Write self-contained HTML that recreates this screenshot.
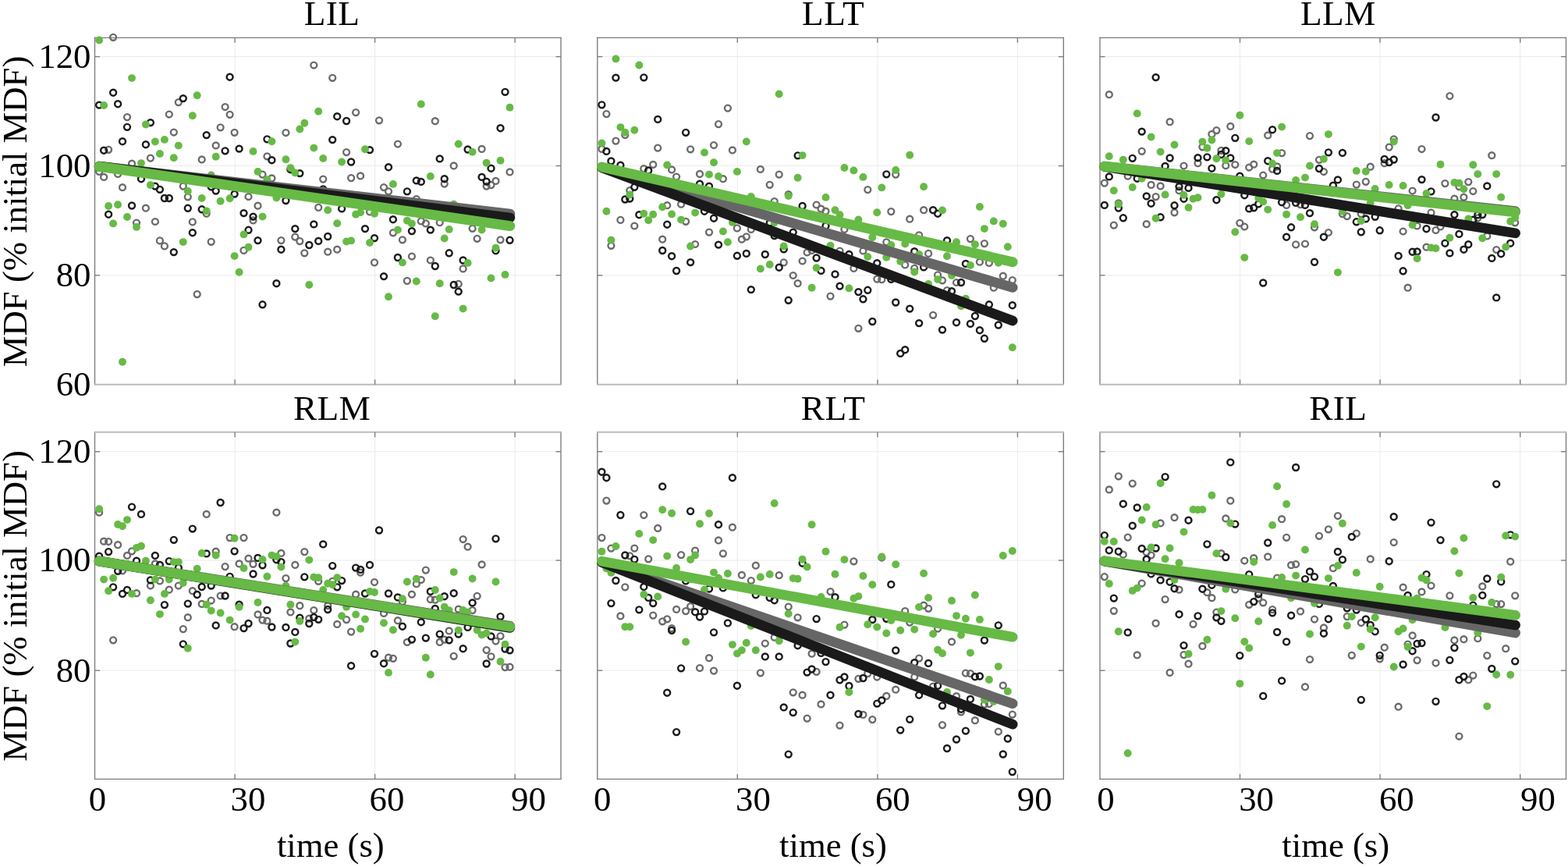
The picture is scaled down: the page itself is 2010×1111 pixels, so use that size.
<!DOCTYPE html>
<html lang="en">
<head>
<meta charset="utf-8">
<title>MDF (% initial MDF) versus time (s)</title>
<style>
html,body{margin:0;padding:0;background:#fff;}
body{width:2010px;height:1111px;overflow:hidden;}
svg{display:block;}
text{font-family:"Liberation Serif","Times New Roman",serif;font-size:44.8px;fill:#000;}
.tt{font-size:45.3px;letter-spacing:0.4px;}.lb{font-size:44.7px;}
.fr{fill:none;stroke:#7b7b7b;stroke-width:1.35;}
.fs{fill:none;stroke:#bcbcbc;stroke-width:2.1;}
.gd{stroke:#ebebeb;stroke-width:1;}
.tk{stroke:#7b7b7b;stroke-width:1.35;}
.k{fill:none;stroke:#1a1a1a;stroke-width:2.45;}
.g{fill:none;stroke:#6a6a6a;stroke-width:2.35;}
.n{fill:#66ba45;stroke:none;}
.l{stroke-width:12.8;stroke-linecap:round;fill:none;}
.lk{stroke:#1a1a1a;}.lg{stroke:#666666;}.ln{stroke:#66ba45;}
</style>
</head>
<body>
<svg width="2010" height="1111" viewBox="0 0 2010 1111">
<rect width="2010" height="1111" fill="#fff"/>
<g>
<line class="gd" x1="301.1" y1="48.3" x2="301.1" y2="492.8"/>
<line class="gd" x1="480.6" y1="48.3" x2="480.6" y2="492.8"/>
<line class="gd" x1="660.1" y1="48.3" x2="660.1" y2="492.8"/>
<line class="gd" x1="121.5" y1="352.8" x2="719" y2="352.8"/>
<line class="gd" x1="121.5" y1="212.5" x2="719" y2="212.5"/>
<line class="gd" x1="121.5" y1="72.6" x2="719" y2="72.6"/>
<path class="fr" d="M121.5 47.8V493.3M719 47.8V493.3"/>
<line class="fr" x1="120.9" y1="48.3" x2="719.6" y2="48.3"/>
<line class="fs" x1="120.9" y1="492.8" x2="719.6" y2="492.8"/>
<line class="tk" x1="301.1" y1="492.8" x2="301.1" y2="486.3"/>
<line class="tk" x1="301.1" y1="48.3" x2="301.1" y2="54.8"/>
<line class="tk" x1="480.6" y1="492.8" x2="480.6" y2="486.3"/>
<line class="tk" x1="480.6" y1="48.3" x2="480.6" y2="54.8"/>
<line class="tk" x1="660.1" y1="492.8" x2="660.1" y2="486.3"/>
<line class="tk" x1="660.1" y1="48.3" x2="660.1" y2="54.8"/>
<line class="tk" x1="121.5" y1="352.8" x2="128" y2="352.8"/>
<line class="tk" x1="719" y1="352.8" x2="712.5" y2="352.8"/>
<line class="tk" x1="121.5" y1="212.5" x2="128" y2="212.5"/>
<line class="tk" x1="719" y1="212.5" x2="712.5" y2="212.5"/>
<line class="tk" x1="121.5" y1="72.6" x2="128" y2="72.6"/>
<line class="tk" x1="719" y1="72.6" x2="712.5" y2="72.6"/>
<circle class="g" cx="127.1" cy="219.9" r="3.95"/><circle class="g" cx="133.1" cy="226.9" r="3.95"/><circle class="g" cx="139.1" cy="191.8" r="3.95"/><circle class="g" cx="145.1" cy="47.8" r="3.95"/><circle class="g" cx="151.1" cy="222.9" r="3.95"/><circle class="g" cx="157" cy="240.2" r="3.95"/>
<circle class="g" cx="163" cy="150.1" r="3.95"/><circle class="g" cx="169" cy="209.7" r="3.95"/><circle class="g" cx="175" cy="285.6" r="3.95"/><circle class="g" cx="186.9" cy="266.7" r="3.95"/><circle class="g" cx="192.9" cy="202.6" r="3.95"/><circle class="g" cx="198.9" cy="284" r="3.95"/>
<circle class="g" cx="204.9" cy="308.4" r="3.95"/><circle class="g" cx="210.9" cy="315.4" r="3.95"/><circle class="g" cx="216.8" cy="146.5" r="3.95"/><circle class="g" cx="222.8" cy="169.5" r="3.95"/><circle class="g" cx="228.8" cy="131.1" r="3.95"/><circle class="g" cx="234.8" cy="238.6" r="3.95"/>
<circle class="g" cx="240.8" cy="252.3" r="3.95"/><circle class="g" cx="246.8" cy="284.4" r="3.95"/><circle class="g" cx="252.7" cy="377.1" r="3.95"/><circle class="g" cx="258.7" cy="204.4" r="3.95"/><circle class="g" cx="264.7" cy="273.7" r="3.95"/><circle class="g" cx="270.7" cy="309.8" r="3.95"/>
<circle class="g" cx="276.7" cy="186.4" r="3.95"/><circle class="g" cx="282.6" cy="163.3" r="3.95"/><circle class="g" cx="288.6" cy="137" r="3.95"/><circle class="g" cx="294.6" cy="146.8" r="3.95"/><circle class="g" cx="300.6" cy="169.8" r="3.95"/><circle class="g" cx="312.5" cy="320.9" r="3.95"/>
<circle class="g" cx="318.5" cy="252" r="3.95"/><circle class="g" cx="324.5" cy="282.4" r="3.95"/><circle class="g" cx="330.5" cy="263.7" r="3.95"/><circle class="g" cx="336.5" cy="223.6" r="3.95"/><circle class="g" cx="342.4" cy="200.3" r="3.95"/><circle class="g" cx="348.4" cy="228.4" r="3.95"/>
<circle class="g" cx="360.4" cy="308.1" r="3.95"/><circle class="g" cx="366.4" cy="170" r="3.95"/><circle class="g" cx="378.3" cy="303.6" r="3.95"/><circle class="g" cx="384.3" cy="309.1" r="3.95"/><circle class="g" cx="390.3" cy="324.3" r="3.95"/><circle class="g" cx="402.3" cy="83.5" r="3.95"/>
<circle class="g" cx="408.2" cy="265.9" r="3.95"/><circle class="g" cx="414.2" cy="229.6" r="3.95"/><circle class="g" cx="420.2" cy="322.7" r="3.95"/><circle class="g" cx="426.2" cy="99.8" r="3.95"/><circle class="g" cx="432.2" cy="319.7" r="3.95"/><circle class="g" cx="444.1" cy="195.1" r="3.95"/>
<circle class="g" cx="450.1" cy="228.1" r="3.95"/><circle class="g" cx="456.1" cy="144.1" r="3.95"/><circle class="g" cx="462.1" cy="225.4" r="3.95"/><circle class="g" cx="474" cy="271.4" r="3.95"/><circle class="g" cx="480" cy="336.4" r="3.95"/><circle class="g" cx="486" cy="154.3" r="3.95"/>
<circle class="g" cx="492" cy="240.1" r="3.95"/><circle class="g" cx="498" cy="245.3" r="3.95"/><circle class="g" cx="503.9" cy="298.3" r="3.95"/><circle class="g" cx="509.9" cy="184.5" r="3.95"/><circle class="g" cx="515.9" cy="307.3" r="3.95"/><circle class="g" cx="521.9" cy="359.9" r="3.95"/>
<circle class="g" cx="527.9" cy="328.5" r="3.95"/><circle class="g" cx="533.8" cy="255" r="3.95"/><circle class="g" cx="539.8" cy="283.4" r="3.95"/><circle class="g" cx="545.8" cy="286.4" r="3.95"/><circle class="g" cx="551.8" cy="333.5" r="3.95"/><circle class="g" cx="557.8" cy="155.2" r="3.95"/>
<circle class="g" cx="563.7" cy="285.2" r="3.95"/><circle class="g" cx="569.7" cy="235.6" r="3.95"/><circle class="g" cx="581.7" cy="212.4" r="3.95"/><circle class="g" cx="587.7" cy="363.9" r="3.95"/><circle class="g" cx="593.6" cy="344.4" r="3.95"/><circle class="g" cx="605.6" cy="292.8" r="3.95"/>
<circle class="g" cx="611.6" cy="305.8" r="3.95"/><circle class="g" cx="617.6" cy="190.9" r="3.95"/><circle class="g" cx="623.6" cy="238.6" r="3.95"/><circle class="g" cx="629.5" cy="237.1" r="3.95"/><circle class="g" cx="635.5" cy="231.9" r="3.95"/><circle class="g" cx="641.5" cy="307.3" r="3.95"/>
<circle class="g" cx="653.5" cy="220.4" r="3.95"/>
<circle class="k" cx="127.1" cy="134.6" r="3.95"/><circle class="k" cx="133.1" cy="192.7" r="3.95"/><circle class="k" cx="139.1" cy="274.7" r="3.95"/><circle class="k" cx="145.1" cy="118.7" r="3.95"/><circle class="k" cx="151.1" cy="133.2" r="3.95"/><circle class="k" cx="157" cy="181.2" r="3.95"/>
<circle class="k" cx="163" cy="162.8" r="3.95"/><circle class="k" cx="169" cy="263.5" r="3.95"/><circle class="k" cx="181" cy="229.2" r="3.95"/><circle class="k" cx="186.9" cy="185.2" r="3.95"/><circle class="k" cx="192.9" cy="157.1" r="3.95"/><circle class="k" cx="198.9" cy="238.6" r="3.95"/>
<circle class="k" cx="204.9" cy="242.8" r="3.95"/><circle class="k" cx="210.9" cy="254" r="3.95"/><circle class="k" cx="216.8" cy="254" r="3.95"/><circle class="k" cx="222.8" cy="323.1" r="3.95"/><circle class="k" cx="234.8" cy="126.1" r="3.95"/><circle class="k" cx="240.8" cy="266.8" r="3.95"/>
<circle class="k" cx="246.8" cy="298.2" r="3.95"/><circle class="k" cx="258.7" cy="268.3" r="3.95"/><circle class="k" cx="264.7" cy="173.1" r="3.95"/><circle class="k" cx="270.7" cy="239.3" r="3.95"/><circle class="k" cx="276.7" cy="244.6" r="3.95"/><circle class="k" cx="288.6" cy="193.3" r="3.95"/>
<circle class="k" cx="294.6" cy="98.7" r="3.95"/><circle class="k" cx="300.6" cy="248.6" r="3.95"/><circle class="k" cx="306.6" cy="190.6" r="3.95"/><circle class="k" cx="312.5" cy="273.1" r="3.95"/><circle class="k" cx="318.5" cy="294.8" r="3.95"/><circle class="k" cx="324.5" cy="277.6" r="3.95"/>
<circle class="k" cx="330.5" cy="308.1" r="3.95"/><circle class="k" cx="336.5" cy="390.3" r="3.95"/><circle class="k" cx="342.4" cy="178.3" r="3.95"/><circle class="k" cx="348.4" cy="205.2" r="3.95"/><circle class="k" cx="354.4" cy="363.2" r="3.95"/><circle class="k" cx="360.4" cy="319.7" r="3.95"/>
<circle class="k" cx="366.4" cy="257" r="3.95"/><circle class="k" cx="372.4" cy="217.2" r="3.95"/><circle class="k" cx="378.3" cy="293.1" r="3.95"/><circle class="k" cx="384.3" cy="222.1" r="3.95"/><circle class="k" cx="396.3" cy="314" r="3.95"/><circle class="k" cx="402.3" cy="287.4" r="3.95"/>
<circle class="k" cx="408.2" cy="308.9" r="3.95"/><circle class="k" cx="414.2" cy="242.3" r="3.95"/><circle class="k" cx="420.2" cy="303" r="3.95"/><circle class="k" cx="426.2" cy="179.1" r="3.95"/><circle class="k" cx="432.2" cy="149.2" r="3.95"/><circle class="k" cx="438.1" cy="267.4" r="3.95"/>
<circle class="k" cx="444.1" cy="155" r="3.95"/><circle class="k" cx="450.1" cy="207.5" r="3.95"/><circle class="k" cx="468" cy="293.1" r="3.95"/><circle class="k" cx="474" cy="192.1" r="3.95"/><circle class="k" cx="480" cy="305.1" r="3.95"/><circle class="k" cx="492" cy="354.1" r="3.95"/>
<circle class="k" cx="498" cy="214.2" r="3.95"/><circle class="k" cx="503.9" cy="281.2" r="3.95"/><circle class="k" cx="509.9" cy="330" r="3.95"/><circle class="k" cx="521.9" cy="245.3" r="3.95"/><circle class="k" cx="527.9" cy="296.1" r="3.95"/><circle class="k" cx="533.8" cy="231.4" r="3.95"/>
<circle class="k" cx="539.8" cy="232.9" r="3.95"/><circle class="k" cx="551.8" cy="294.6" r="3.95"/><circle class="k" cx="557.8" cy="341" r="3.95"/><circle class="k" cx="563.7" cy="203.4" r="3.95"/><circle class="k" cx="569.7" cy="229.2" r="3.95"/><circle class="k" cx="575.7" cy="324.3" r="3.95"/>
<circle class="k" cx="581.7" cy="365" r="3.95"/><circle class="k" cx="587.7" cy="373.6" r="3.95"/><circle class="k" cx="593.6" cy="333.5" r="3.95"/><circle class="k" cx="599.6" cy="191.5" r="3.95"/><circle class="k" cx="617.6" cy="226.9" r="3.95"/><circle class="k" cx="623.6" cy="232.6" r="3.95"/>
<circle class="k" cx="629.5" cy="215.7" r="3.95"/><circle class="k" cx="635.5" cy="321.2" r="3.95"/><circle class="k" cx="641.5" cy="164.2" r="3.95"/><circle class="k" cx="647.5" cy="117.8" r="3.95"/><circle class="k" cx="653.5" cy="307.8" r="3.95"/>
<circle class="n" cx="127.1" cy="51.5" r="4.95"/><circle class="n" cx="133.1" cy="135" r="4.95"/><circle class="n" cx="139.1" cy="264" r="4.95"/><circle class="n" cx="145.1" cy="286.4" r="4.95"/><circle class="n" cx="151.1" cy="262.2" r="4.95"/><circle class="n" cx="157" cy="463.7" r="4.95"/>
<circle class="n" cx="163" cy="278" r="4.95"/><circle class="n" cx="169" cy="100.1" r="4.95"/><circle class="n" cx="175" cy="290.9" r="4.95"/><circle class="n" cx="181" cy="209.1" r="4.95"/><circle class="n" cx="186.9" cy="159.5" r="4.95"/><circle class="n" cx="192.9" cy="237.1" r="4.95"/>
<circle class="n" cx="198.9" cy="181.5" r="4.95"/><circle class="n" cx="204.9" cy="197" r="4.95"/><circle class="n" cx="210.9" cy="178.9" r="4.95"/><circle class="n" cx="222.8" cy="202.3" r="4.95"/><circle class="n" cx="228.8" cy="186.6" r="4.95"/><circle class="n" cx="234.8" cy="310.1" r="4.95"/>
<circle class="n" cx="240.8" cy="244.9" r="4.95"/><circle class="n" cx="246.8" cy="148.2" r="4.95"/><circle class="n" cx="252.7" cy="122.3" r="4.95"/><circle class="n" cx="258.7" cy="254" r="4.95"/><circle class="n" cx="264.7" cy="270.4" r="4.95"/><circle class="n" cx="270.7" cy="224.4" r="4.95"/>
<circle class="n" cx="276.7" cy="200.7" r="4.95"/><circle class="n" cx="282.6" cy="257.7" r="4.95"/><circle class="n" cx="294.6" cy="254.3" r="4.95"/><circle class="n" cx="300.6" cy="328.1" r="4.95"/><circle class="n" cx="306.6" cy="348.8" r="4.95"/><circle class="n" cx="312.5" cy="300.4" r="4.95"/>
<circle class="n" cx="318.5" cy="316.7" r="4.95"/><circle class="n" cx="324.5" cy="193.9" r="4.95"/><circle class="n" cx="330.5" cy="219.9" r="4.95"/><circle class="n" cx="336.5" cy="277.6" r="4.95"/><circle class="n" cx="342.4" cy="230.1" r="4.95"/><circle class="n" cx="348.4" cy="181.3" r="4.95"/>
<circle class="n" cx="354.4" cy="253.5" r="4.95"/><circle class="n" cx="366.4" cy="204.3" r="4.95"/><circle class="n" cx="372.4" cy="215.1" r="4.95"/><circle class="n" cx="378.3" cy="221.4" r="4.95"/><circle class="n" cx="384.3" cy="165.5" r="4.95"/><circle class="n" cx="390.3" cy="157.7" r="4.95"/>
<circle class="n" cx="396.3" cy="365" r="4.95"/><circle class="n" cx="402.3" cy="189.6" r="4.95"/><circle class="n" cx="408.2" cy="142.8" r="4.95"/><circle class="n" cx="414.2" cy="203" r="4.95"/><circle class="n" cx="420.2" cy="269.2" r="4.95"/><circle class="n" cx="432.2" cy="286.2" r="4.95"/>
<circle class="n" cx="438.1" cy="207.5" r="4.95"/><circle class="n" cx="444.1" cy="309.5" r="4.95"/><circle class="n" cx="450.1" cy="308.4" r="4.95"/><circle class="n" cx="456.1" cy="274.7" r="4.95"/><circle class="n" cx="462.1" cy="272.2" r="4.95"/><circle class="n" cx="468" cy="191.3" r="4.95"/>
<circle class="n" cx="474" cy="311" r="4.95"/><circle class="n" cx="480" cy="273.7" r="4.95"/><circle class="n" cx="498" cy="380.3" r="4.95"/><circle class="n" cx="503.9" cy="235.9" r="4.95"/><circle class="n" cx="509.9" cy="294.6" r="4.95"/><circle class="n" cx="515.9" cy="336.4" r="4.95"/>
<circle class="n" cx="521.9" cy="282.7" r="4.95"/><circle class="n" cx="527.9" cy="286.4" r="4.95"/><circle class="n" cx="533.8" cy="360.5" r="4.95"/><circle class="n" cx="539.8" cy="133.4" r="4.95"/><circle class="n" cx="551.8" cy="225.9" r="4.95"/><circle class="n" cx="557.8" cy="405.3" r="4.95"/>
<circle class="n" cx="563.7" cy="363.2" r="4.95"/><circle class="n" cx="569.7" cy="305.5" r="4.95"/><circle class="n" cx="575.7" cy="293.9" r="4.95"/><circle class="n" cx="581.7" cy="261.7" r="4.95"/><circle class="n" cx="587.7" cy="184.5" r="4.95"/><circle class="n" cx="593.6" cy="395.6" r="4.95"/>
<circle class="n" cx="599.6" cy="336.9" r="4.95"/><circle class="n" cx="605.6" cy="194.8" r="4.95"/><circle class="n" cx="617.6" cy="294.6" r="4.95"/><circle class="n" cx="623.6" cy="208.7" r="4.95"/><circle class="n" cx="629.5" cy="356.4" r="4.95"/><circle class="n" cx="635.5" cy="317.8" r="4.95"/>
<circle class="n" cx="641.5" cy="205.7" r="4.95"/><circle class="n" cx="647.5" cy="351.9" r="4.95"/><circle class="n" cx="653.5" cy="137.7" r="4.95"/>
<line class="l lg" x1="127.1" y1="213.2" x2="653.8" y2="274"/>
<line class="l lk" x1="127.1" y1="213.2" x2="653.8" y2="279"/>
<line class="l ln" x1="127.1" y1="213.4" x2="653.8" y2="289.6"/>
<text class="tt" x="425.6" y="31.8" text-anchor="middle">LIL</text>
<text x="116.5" y="507.1" text-anchor="end">60</text>
<text x="116.5" y="367.1" text-anchor="end">80</text>
<text x="116.5" y="226.8" text-anchor="end">100</text>
<text x="116.5" y="86.9" text-anchor="end">120</text>
<text class="lb" transform="translate(33.5,270.9) rotate(-90)" text-anchor="middle">MDF (% initial MDF)</text>
</g>
<g>
<line class="gd" x1="945.3" y1="48.3" x2="945.3" y2="492.8"/>
<line class="gd" x1="1124.9" y1="48.3" x2="1124.9" y2="492.8"/>
<line class="gd" x1="1304.4" y1="48.3" x2="1304.4" y2="492.8"/>
<line class="gd" x1="765.8" y1="352.8" x2="1363.3" y2="352.8"/>
<line class="gd" x1="765.8" y1="212.5" x2="1363.3" y2="212.5"/>
<line class="gd" x1="765.8" y1="72.6" x2="1363.3" y2="72.6"/>
<path class="fr" d="M765.8 47.8V493.3M1363.3 47.8V493.3"/>
<line class="fr" x1="765.2" y1="48.3" x2="1363.9" y2="48.3"/>
<line class="fs" x1="765.2" y1="492.8" x2="1363.9" y2="492.8"/>
<line class="tk" x1="945.3" y1="492.8" x2="945.3" y2="486.3"/>
<line class="tk" x1="945.3" y1="48.3" x2="945.3" y2="54.8"/>
<line class="tk" x1="1124.9" y1="492.8" x2="1124.9" y2="486.3"/>
<line class="tk" x1="1124.9" y1="48.3" x2="1124.9" y2="54.8"/>
<line class="tk" x1="1304.4" y1="492.8" x2="1304.4" y2="486.3"/>
<line class="tk" x1="1304.4" y1="48.3" x2="1304.4" y2="54.8"/>
<line class="tk" x1="765.8" y1="352.8" x2="772.3" y2="352.8"/>
<line class="tk" x1="1363.3" y1="352.8" x2="1356.8" y2="352.8"/>
<line class="tk" x1="765.8" y1="212.5" x2="772.3" y2="212.5"/>
<line class="tk" x1="1363.3" y1="212.5" x2="1356.8" y2="212.5"/>
<line class="tk" x1="765.8" y1="72.6" x2="772.3" y2="72.6"/>
<line class="tk" x1="1363.3" y1="72.6" x2="1356.8" y2="72.6"/>
<circle class="g" cx="771.4" cy="190.9" r="3.95"/><circle class="g" cx="777.4" cy="146.1" r="3.95"/><circle class="g" cx="783.4" cy="314.8" r="3.95"/><circle class="g" cx="789.4" cy="180.6" r="3.95"/><circle class="g" cx="795.4" cy="281.9" r="3.95"/><circle class="g" cx="801.3" cy="173" r="3.95"/>
<circle class="g" cx="807.3" cy="244.1" r="3.95"/><circle class="g" cx="813.3" cy="289.5" r="3.95"/><circle class="g" cx="825.3" cy="216.2" r="3.95"/><circle class="g" cx="837.2" cy="210.9" r="3.95"/><circle class="g" cx="843.2" cy="189.6" r="3.95"/><circle class="g" cx="849.2" cy="306.7" r="3.95"/>
<circle class="g" cx="855.2" cy="263.2" r="3.95"/><circle class="g" cx="861.1" cy="217.4" r="3.95"/><circle class="g" cx="867.1" cy="226.6" r="3.95"/><circle class="g" cx="873.1" cy="261.7" r="3.95"/><circle class="g" cx="879.1" cy="283.8" r="3.95"/><circle class="g" cx="885.1" cy="191.3" r="3.95"/>
<circle class="g" cx="891.1" cy="313" r="3.95"/><circle class="g" cx="897" cy="222.9" r="3.95"/><circle class="g" cx="909" cy="297.6" r="3.95"/><circle class="g" cx="915" cy="186" r="3.95"/><circle class="g" cx="921" cy="159.1" r="3.95"/><circle class="g" cx="926.9" cy="229.2" r="3.95"/>
<circle class="g" cx="932.9" cy="138.6" r="3.95"/><circle class="g" cx="938.9" cy="192.4" r="3.95"/><circle class="g" cx="944.9" cy="292.4" r="3.95"/><circle class="g" cx="950.9" cy="306.7" r="3.95"/><circle class="g" cx="956.8" cy="303.3" r="3.95"/><circle class="g" cx="962.8" cy="293.9" r="3.95"/>
<circle class="g" cx="974.8" cy="216.9" r="3.95"/><circle class="g" cx="986.7" cy="236.8" r="3.95"/><circle class="g" cx="992.7" cy="258" r="3.95"/><circle class="g" cx="998.7" cy="223.6" r="3.95"/><circle class="g" cx="1004.7" cy="336.4" r="3.95"/><circle class="g" cx="1010.7" cy="249" r="3.95"/>
<circle class="g" cx="1016.7" cy="353" r="3.95"/><circle class="g" cx="1022.6" cy="363.2" r="3.95"/><circle class="g" cx="1028.6" cy="334.5" r="3.95"/><circle class="g" cx="1034.6" cy="323.5" r="3.95"/><circle class="g" cx="1040.6" cy="321" r="3.95"/><circle class="g" cx="1046.6" cy="262.5" r="3.95"/>
<circle class="g" cx="1052.5" cy="267.7" r="3.95"/><circle class="g" cx="1058.5" cy="270.7" r="3.95"/><circle class="g" cx="1064.5" cy="379.6" r="3.95"/><circle class="g" cx="1076.5" cy="321.5" r="3.95"/><circle class="g" cx="1082.4" cy="293.9" r="3.95"/><circle class="g" cx="1094.4" cy="343.9" r="3.95"/>
<circle class="g" cx="1100.4" cy="420.8" r="3.95"/><circle class="g" cx="1106.4" cy="321.5" r="3.95"/><circle class="g" cx="1112.3" cy="243.1" r="3.95"/><circle class="g" cx="1124.3" cy="357.6" r="3.95"/><circle class="g" cx="1130.3" cy="358.2" r="3.95"/><circle class="g" cx="1136.3" cy="310.3" r="3.95"/>
<circle class="g" cx="1142.3" cy="271.1" r="3.95"/><circle class="g" cx="1148.2" cy="223.6" r="3.95"/><circle class="g" cx="1160.2" cy="339.4" r="3.95"/><circle class="g" cx="1166.2" cy="280.7" r="3.95"/><circle class="g" cx="1172.2" cy="343.9" r="3.95"/><circle class="g" cx="1178.1" cy="301.3" r="3.95"/>
<circle class="g" cx="1184.1" cy="269.2" r="3.95"/><circle class="g" cx="1190.1" cy="324.9" r="3.95"/><circle class="g" cx="1196.1" cy="403.8" r="3.95"/><circle class="g" cx="1202.1" cy="352.4" r="3.95"/><circle class="g" cx="1208" cy="359.3" r="3.95"/><circle class="g" cx="1214" cy="372.1" r="3.95"/>
<circle class="g" cx="1226" cy="362" r="3.95"/><circle class="g" cx="1243.9" cy="306.1" r="3.95"/><circle class="g" cx="1255.9" cy="335.7" r="3.95"/><circle class="g" cx="1261.9" cy="312.1" r="3.95"/><circle class="g" cx="1267.9" cy="336.9" r="3.95"/><circle class="g" cx="1273.8" cy="368.7" r="3.95"/>
<circle class="g" cx="1285.8" cy="353.7" r="3.95"/><circle class="g" cx="1297.8" cy="359.1" r="3.95"/>
<circle class="k" cx="771.4" cy="134.3" r="3.95"/><circle class="k" cx="777.4" cy="193.9" r="3.95"/><circle class="k" cx="783.4" cy="206.5" r="3.95"/><circle class="k" cx="789.4" cy="99.6" r="3.95"/><circle class="k" cx="795.4" cy="211.7" r="3.95"/><circle class="k" cx="801.3" cy="255.5" r="3.95"/>
<circle class="k" cx="807.3" cy="254.6" r="3.95"/><circle class="k" cx="813.3" cy="239.8" r="3.95"/><circle class="k" cx="819.3" cy="275.2" r="3.95"/><circle class="k" cx="825.3" cy="99.3" r="3.95"/><circle class="k" cx="831.2" cy="218.4" r="3.95"/><circle class="k" cx="843.2" cy="152.9" r="3.95"/>
<circle class="k" cx="849.2" cy="321" r="3.95"/><circle class="k" cx="855.2" cy="287.7" r="3.95"/><circle class="k" cx="861.1" cy="328.2" r="3.95"/><circle class="k" cx="867.1" cy="347" r="3.95"/><circle class="k" cx="879.1" cy="169.8" r="3.95"/><circle class="k" cx="885.1" cy="336.1" r="3.95"/>
<circle class="k" cx="897" cy="235.6" r="3.95"/><circle class="k" cx="903" cy="270.7" r="3.95"/><circle class="k" cx="909" cy="238.6" r="3.95"/><circle class="k" cx="915" cy="279.7" r="3.95"/><circle class="k" cx="921" cy="313.6" r="3.95"/><circle class="k" cx="944.9" cy="327.8" r="3.95"/>
<circle class="k" cx="956.8" cy="324.9" r="3.95"/><circle class="k" cx="962.8" cy="371.1" r="3.95"/><circle class="k" cx="980.8" cy="326" r="3.95"/><circle class="k" cx="986.7" cy="285.6" r="3.95"/><circle class="k" cx="992.7" cy="302.1" r="3.95"/><circle class="k" cx="998.7" cy="342.7" r="3.95"/>
<circle class="k" cx="1004.7" cy="319.3" r="3.95"/><circle class="k" cx="1010.7" cy="384.8" r="3.95"/><circle class="k" cx="1016.7" cy="297.6" r="3.95"/><circle class="k" cx="1022.6" cy="199.3" r="3.95"/><circle class="k" cx="1028.6" cy="264" r="3.95"/><circle class="k" cx="1046.6" cy="330.5" r="3.95"/>
<circle class="k" cx="1052.5" cy="346.9" r="3.95"/><circle class="k" cx="1058.5" cy="289.4" r="3.95"/><circle class="k" cx="1070.5" cy="351.4" r="3.95"/><circle class="k" cx="1076.5" cy="366.6" r="3.95"/><circle class="k" cx="1088.4" cy="326" r="3.95"/><circle class="k" cx="1100.4" cy="374.1" r="3.95"/>
<circle class="k" cx="1106.4" cy="383.3" r="3.95"/><circle class="k" cx="1112.3" cy="371.8" r="3.95"/><circle class="k" cx="1118.3" cy="412" r="3.95"/><circle class="k" cx="1124.3" cy="337.2" r="3.95"/><circle class="k" cx="1136.3" cy="223.3" r="3.95"/><circle class="k" cx="1142.3" cy="357.9" r="3.95"/>
<circle class="k" cx="1148.2" cy="387.5" r="3.95"/><circle class="k" cx="1154.2" cy="452.9" r="3.95"/><circle class="k" cx="1160.2" cy="448.2" r="3.95"/><circle class="k" cx="1166.2" cy="395.6" r="3.95"/><circle class="k" cx="1172.2" cy="322.2" r="3.95"/><circle class="k" cx="1178.1" cy="414.1" r="3.95"/>
<circle class="k" cx="1184.1" cy="342.4" r="3.95"/><circle class="k" cx="1196.1" cy="269.2" r="3.95"/><circle class="k" cx="1202.1" cy="273.7" r="3.95"/><circle class="k" cx="1208" cy="422.6" r="3.95"/><circle class="k" cx="1214" cy="308.1" r="3.95"/><circle class="k" cx="1220" cy="373.2" r="3.95"/>
<circle class="k" cx="1226" cy="413.2" r="3.95"/><circle class="k" cx="1232" cy="362" r="3.95"/><circle class="k" cx="1237.9" cy="337.9" r="3.95"/><circle class="k" cx="1243.9" cy="414.9" r="3.95"/><circle class="k" cx="1249.9" cy="405" r="3.95"/><circle class="k" cx="1255.9" cy="423.2" r="3.95"/>
<circle class="k" cx="1261.9" cy="433.8" r="3.95"/><circle class="k" cx="1267.9" cy="390.3" r="3.95"/><circle class="k" cx="1279.8" cy="416.5" r="3.95"/><circle class="k" cx="1297.8" cy="391.2" r="3.95"/>
<circle class="n" cx="771.4" cy="183.4" r="4.95"/><circle class="n" cx="777.4" cy="270.7" r="4.95"/><circle class="n" cx="783.4" cy="307.8" r="4.95"/><circle class="n" cx="789.4" cy="75.4" r="4.95"/><circle class="n" cx="795.4" cy="163.1" r="4.95"/><circle class="n" cx="801.3" cy="169.7" r="4.95"/>
<circle class="n" cx="807.3" cy="249.5" r="4.95"/><circle class="n" cx="813.3" cy="166.7" r="4.95"/><circle class="n" cx="819.3" cy="83.5" r="4.95"/><circle class="n" cx="825.3" cy="273.7" r="4.95"/><circle class="n" cx="831.2" cy="282.2" r="4.95"/><circle class="n" cx="837.2" cy="274.7" r="4.95"/>
<circle class="n" cx="849.2" cy="265.2" r="4.95"/><circle class="n" cx="855.2" cy="211.4" r="4.95"/><circle class="n" cx="861.1" cy="274.4" r="4.95"/><circle class="n" cx="873.1" cy="281.6" r="4.95"/><circle class="n" cx="885.1" cy="315.5" r="4.95"/><circle class="n" cx="891.1" cy="272.6" r="4.95"/>
<circle class="n" cx="903" cy="195.4" r="4.95"/><circle class="n" cx="909" cy="223.6" r="4.95"/><circle class="n" cx="915" cy="208.3" r="4.95"/><circle class="n" cx="921" cy="225.9" r="4.95"/><circle class="n" cx="926.9" cy="296.5" r="4.95"/><circle class="n" cx="932.9" cy="310.3" r="4.95"/>
<circle class="n" cx="938.9" cy="284.9" r="4.95"/><circle class="n" cx="944.9" cy="219.9" r="4.95"/><circle class="n" cx="956.8" cy="181.5" r="4.95"/><circle class="n" cx="962.8" cy="252" r="4.95"/><circle class="n" cx="974.8" cy="344.4" r="4.95"/><circle class="n" cx="986.7" cy="339" r="4.95"/>
<circle class="n" cx="992.7" cy="285.3" r="4.95"/><circle class="n" cx="998.7" cy="120.5" r="4.95"/><circle class="n" cx="1004.7" cy="315.5" r="4.95"/><circle class="n" cx="1010.7" cy="251" r="4.95"/><circle class="n" cx="1022.6" cy="227.8" r="4.95"/><circle class="n" cx="1028.6" cy="199.1" r="4.95"/>
<circle class="n" cx="1040.6" cy="368.8" r="4.95"/><circle class="n" cx="1046.6" cy="343.3" r="4.95"/><circle class="n" cx="1058.5" cy="252.9" r="4.95"/><circle class="n" cx="1064.5" cy="314.8" r="4.95"/><circle class="n" cx="1070.5" cy="269.2" r="4.95"/><circle class="n" cx="1076.5" cy="275.2" r="4.95"/>
<circle class="n" cx="1082.4" cy="215" r="4.95"/><circle class="n" cx="1088.4" cy="369.4" r="4.95"/><circle class="n" cx="1094.4" cy="218.4" r="4.95"/><circle class="n" cx="1100.4" cy="281.5" r="4.95"/><circle class="n" cx="1106.4" cy="226.9" r="4.95"/><circle class="n" cx="1112.3" cy="329" r="4.95"/>
<circle class="n" cx="1118.3" cy="304.3" r="4.95"/><circle class="n" cx="1124.3" cy="272.2" r="4.95"/><circle class="n" cx="1130.3" cy="240.4" r="4.95"/><circle class="n" cx="1136.3" cy="329.7" r="4.95"/><circle class="n" cx="1142.3" cy="314" r="4.95"/><circle class="n" cx="1148.2" cy="218" r="4.95"/>
<circle class="n" cx="1154.2" cy="334.9" r="4.95"/><circle class="n" cx="1160.2" cy="312.5" r="4.95"/><circle class="n" cx="1166.2" cy="198.8" r="4.95"/><circle class="n" cx="1172.2" cy="348.5" r="4.95"/><circle class="n" cx="1178.1" cy="326" r="4.95"/><circle class="n" cx="1184.1" cy="239.3" r="4.95"/>
<circle class="n" cx="1190.1" cy="363.9" r="4.95"/><circle class="n" cx="1202.1" cy="358.1" r="4.95"/><circle class="n" cx="1208" cy="269.5" r="4.95"/><circle class="n" cx="1214" cy="328.2" r="4.95"/><circle class="n" cx="1220" cy="353" r="4.95"/><circle class="n" cx="1226" cy="310.3" r="4.95"/>
<circle class="n" cx="1232" cy="392.3" r="4.95"/><circle class="n" cx="1237.9" cy="382.6" r="4.95"/><circle class="n" cx="1243.9" cy="339.9" r="4.95"/><circle class="n" cx="1249.9" cy="313.3" r="4.95"/><circle class="n" cx="1255.9" cy="265" r="4.95"/><circle class="n" cx="1261.9" cy="293.1" r="4.95"/>
<circle class="n" cx="1273.8" cy="283.4" r="4.95"/><circle class="n" cx="1279.8" cy="336.7" r="4.95"/><circle class="n" cx="1285.8" cy="286.8" r="4.95"/><circle class="n" cx="1291.8" cy="316.3" r="4.95"/><circle class="n" cx="1297.8" cy="445.3" r="4.95"/>
<line class="l lg" x1="771.4" y1="214.3" x2="1298.1" y2="368.4"/>
<line class="l lk" x1="771.4" y1="214.7" x2="1298.1" y2="411"/>
<line class="l ln" x1="771.4" y1="213.9" x2="1298.1" y2="335.7"/>
<text class="tt" x="1068.1" y="31.8" text-anchor="middle">LLT</text>
</g>
<g>
<line class="gd" x1="1589.5" y1="48.3" x2="1589.5" y2="492.8"/>
<line class="gd" x1="1769.1" y1="48.3" x2="1769.1" y2="492.8"/>
<line class="gd" x1="1948.7" y1="48.3" x2="1948.7" y2="492.8"/>
<line class="gd" x1="1410" y1="352.8" x2="2007.5" y2="352.8"/>
<line class="gd" x1="1410" y1="212.5" x2="2007.5" y2="212.5"/>
<line class="gd" x1="1410" y1="72.6" x2="2007.5" y2="72.6"/>
<path class="fr" d="M1410 47.8V493.3M2007.5 47.8V493.3"/>
<line class="fr" x1="1409.4" y1="48.3" x2="2008.1" y2="48.3"/>
<line class="fs" x1="1409.4" y1="492.8" x2="2008.1" y2="492.8"/>
<line class="tk" x1="1589.5" y1="492.8" x2="1589.5" y2="486.3"/>
<line class="tk" x1="1589.5" y1="48.3" x2="1589.5" y2="54.8"/>
<line class="tk" x1="1769.1" y1="492.8" x2="1769.1" y2="486.3"/>
<line class="tk" x1="1769.1" y1="48.3" x2="1769.1" y2="54.8"/>
<line class="tk" x1="1948.7" y1="492.8" x2="1948.7" y2="486.3"/>
<line class="tk" x1="1948.7" y1="48.3" x2="1948.7" y2="54.8"/>
<line class="tk" x1="1410" y1="352.8" x2="1416.5" y2="352.8"/>
<line class="tk" x1="2007.5" y1="352.8" x2="2001" y2="352.8"/>
<line class="tk" x1="1410" y1="212.5" x2="1416.5" y2="212.5"/>
<line class="tk" x1="2007.5" y1="212.5" x2="2001" y2="212.5"/>
<line class="tk" x1="1410" y1="72.6" x2="1416.5" y2="72.6"/>
<line class="tk" x1="2007.5" y1="72.6" x2="2001" y2="72.6"/>
<circle class="g" cx="1415.8" cy="234.6" r="3.95"/><circle class="g" cx="1421.8" cy="121.2" r="3.95"/><circle class="g" cx="1427.8" cy="288.6" r="3.95"/><circle class="g" cx="1433.8" cy="260.4" r="3.95"/><circle class="g" cx="1445.7" cy="225.7" r="3.95"/><circle class="g" cx="1463.7" cy="193.8" r="3.95"/>
<circle class="g" cx="1469.7" cy="287.2" r="3.95"/><circle class="g" cx="1475.6" cy="236.9" r="3.95"/><circle class="g" cx="1481.6" cy="252.1" r="3.95"/><circle class="g" cx="1487.6" cy="238.4" r="3.95"/><circle class="g" cx="1499.6" cy="156.2" r="3.95"/><circle class="g" cx="1505.5" cy="272.3" r="3.95"/>
<circle class="g" cx="1511.5" cy="244.2" r="3.95"/><circle class="g" cx="1517.5" cy="212.5" r="3.95"/><circle class="g" cx="1535.5" cy="209.2" r="3.95"/><circle class="g" cx="1541.4" cy="188.3" r="3.95"/><circle class="g" cx="1553.4" cy="171.9" r="3.95"/><circle class="g" cx="1559.4" cy="167.1" r="3.95"/>
<circle class="g" cx="1565.4" cy="192.8" r="3.95"/><circle class="g" cx="1571.3" cy="212.2" r="3.95"/><circle class="g" cx="1577.3" cy="161.9" r="3.95"/><circle class="g" cx="1583.3" cy="211" r="3.95"/><circle class="g" cx="1589.3" cy="285.8" r="3.95"/><circle class="g" cx="1595.3" cy="290.5" r="3.95"/>
<circle class="g" cx="1601.2" cy="214.5" r="3.95"/><circle class="g" cx="1607.2" cy="210.7" r="3.95"/><circle class="g" cx="1619.2" cy="224.5" r="3.95"/><circle class="g" cx="1625.2" cy="173.4" r="3.95"/><circle class="g" cx="1631.1" cy="216.7" r="3.95"/><circle class="g" cx="1637.1" cy="213.4" r="3.95"/>
<circle class="g" cx="1643.1" cy="196.1" r="3.95"/><circle class="g" cx="1649.1" cy="262.9" r="3.95"/><circle class="g" cx="1661.1" cy="313.4" r="3.95"/><circle class="g" cx="1667" cy="262.1" r="3.95"/><circle class="g" cx="1673" cy="312.5" r="3.95"/><circle class="g" cx="1679" cy="174.1" r="3.95"/>
<circle class="g" cx="1685" cy="291.3" r="3.95"/><circle class="g" cx="1691" cy="204.8" r="3.95"/><circle class="g" cx="1696.9" cy="220" r="3.95"/><circle class="g" cx="1702.9" cy="298" r="3.95"/><circle class="g" cx="1720.9" cy="274.1" r="3.95"/><circle class="g" cx="1726.8" cy="277.1" r="3.95"/>
<circle class="g" cx="1738.8" cy="236.6" r="3.95"/><circle class="g" cx="1744.8" cy="274.1" r="3.95"/><circle class="g" cx="1750.8" cy="232.8" r="3.95"/><circle class="g" cx="1756.7" cy="213.7" r="3.95"/><circle class="g" cx="1774.7" cy="209.2" r="3.95"/><circle class="g" cx="1780.7" cy="188.6" r="3.95"/>
<circle class="g" cx="1786.7" cy="178.3" r="3.95"/><circle class="g" cx="1792.6" cy="267.4" r="3.95"/><circle class="g" cx="1798.6" cy="296.5" r="3.95"/><circle class="g" cx="1804.6" cy="368.7" r="3.95"/><circle class="g" cx="1810.6" cy="244.5" r="3.95"/><circle class="g" cx="1816.6" cy="289.5" r="3.95"/>
<circle class="g" cx="1822.5" cy="191" r="3.95"/><circle class="g" cx="1828.5" cy="316.7" r="3.95"/><circle class="g" cx="1834.5" cy="272.6" r="3.95"/><circle class="g" cx="1840.5" cy="295" r="3.95"/><circle class="g" cx="1846.5" cy="290.5" r="3.95"/><circle class="g" cx="1852.4" cy="235.1" r="3.95"/>
<circle class="g" cx="1858.4" cy="123" r="3.95"/><circle class="g" cx="1864.4" cy="254.7" r="3.95"/><circle class="g" cx="1870.4" cy="239.1" r="3.95"/><circle class="g" cx="1876.4" cy="252.7" r="3.95"/><circle class="g" cx="1882.3" cy="233.1" r="3.95"/><circle class="g" cx="1888.3" cy="245" r="3.95"/>
<circle class="g" cx="1894.3" cy="279.3" r="3.95"/><circle class="g" cx="1906.3" cy="302.5" r="3.95"/><circle class="g" cx="1912.3" cy="199.2" r="3.95"/><circle class="g" cx="1918.2" cy="320" r="3.95"/><circle class="g" cx="1942.2" cy="285.3" r="3.95"/>
<circle class="k" cx="1415.8" cy="262.9" r="3.95"/><circle class="k" cx="1421.8" cy="226.4" r="3.95"/><circle class="k" cx="1433.8" cy="266.6" r="3.95"/><circle class="k" cx="1439.8" cy="279.3" r="3.95"/><circle class="k" cx="1451.7" cy="202.8" r="3.95"/><circle class="k" cx="1457.7" cy="228.7" r="3.95"/>
<circle class="k" cx="1463.7" cy="168.6" r="3.95"/><circle class="k" cx="1469.7" cy="251.4" r="3.95"/><circle class="k" cx="1475.6" cy="260.7" r="3.95"/><circle class="k" cx="1481.6" cy="99.1" r="3.95"/><circle class="k" cx="1487.6" cy="278.3" r="3.95"/><circle class="k" cx="1493.6" cy="213" r="3.95"/>
<circle class="k" cx="1499.6" cy="202.5" r="3.95"/><circle class="k" cx="1505.5" cy="263.3" r="3.95"/><circle class="k" cx="1511.5" cy="239.1" r="3.95"/><circle class="k" cx="1517.5" cy="254.7" r="3.95"/><circle class="k" cx="1523.5" cy="240.9" r="3.95"/><circle class="k" cx="1535.5" cy="202.2" r="3.95"/>
<circle class="k" cx="1547.4" cy="201.3" r="3.95"/><circle class="k" cx="1553.4" cy="215.7" r="3.95"/><circle class="k" cx="1559.4" cy="256.2" r="3.95"/><circle class="k" cx="1565.4" cy="198" r="3.95"/><circle class="k" cx="1571.3" cy="193.1" r="3.95"/><circle class="k" cx="1577.3" cy="202.5" r="3.95"/>
<circle class="k" cx="1583.3" cy="176.8" r="3.95"/><circle class="k" cx="1589.3" cy="225.7" r="3.95"/><circle class="k" cx="1595.3" cy="250.2" r="3.95"/><circle class="k" cx="1601.2" cy="267.4" r="3.95"/><circle class="k" cx="1607.2" cy="266.3" r="3.95"/><circle class="k" cx="1613.2" cy="261.4" r="3.95"/>
<circle class="k" cx="1619.2" cy="362.5" r="3.95"/><circle class="k" cx="1625.2" cy="206.2" r="3.95"/><circle class="k" cx="1631.1" cy="166.2" r="3.95"/><circle class="k" cx="1637.1" cy="218.9" r="3.95"/><circle class="k" cx="1643.1" cy="259.2" r="3.95"/><circle class="k" cx="1649.1" cy="303.7" r="3.95"/>
<circle class="k" cx="1655.1" cy="291.3" r="3.95"/><circle class="k" cx="1661.1" cy="259.9" r="3.95"/><circle class="k" cx="1673" cy="262.9" r="3.95"/><circle class="k" cx="1679" cy="273.1" r="3.95"/><circle class="k" cx="1685" cy="335.8" r="3.95"/><circle class="k" cx="1691" cy="216" r="3.95"/>
<circle class="k" cx="1696.9" cy="303.7" r="3.95"/><circle class="k" cx="1702.9" cy="195.3" r="3.95"/><circle class="k" cx="1708.9" cy="237.6" r="3.95"/><circle class="k" cx="1714.9" cy="230.4" r="3.95"/><circle class="k" cx="1720.9" cy="195.9" r="3.95"/><circle class="k" cx="1738.8" cy="284.3" r="3.95"/>
<circle class="k" cx="1744.8" cy="297.3" r="3.95"/><circle class="k" cx="1750.8" cy="280.4" r="3.95"/><circle class="k" cx="1762.7" cy="277.8" r="3.95"/><circle class="k" cx="1768.7" cy="295.3" r="3.95"/><circle class="k" cx="1774.7" cy="204" r="3.95"/><circle class="k" cx="1780.7" cy="208" r="3.95"/>
<circle class="k" cx="1786.7" cy="204.5" r="3.95"/><circle class="k" cx="1792.6" cy="327.9" r="3.95"/><circle class="k" cx="1798.6" cy="347.3" r="3.95"/><circle class="k" cx="1810.6" cy="322.7" r="3.95"/><circle class="k" cx="1816.6" cy="322.4" r="3.95"/><circle class="k" cx="1822.5" cy="230.1" r="3.95"/>
<circle class="k" cx="1828.5" cy="293.2" r="3.95"/><circle class="k" cx="1834.5" cy="245.3" r="3.95"/><circle class="k" cx="1840.5" cy="150.5" r="3.95"/><circle class="k" cx="1852.4" cy="311.7" r="3.95"/><circle class="k" cx="1858.4" cy="324.4" r="3.95"/><circle class="k" cx="1864.4" cy="275.1" r="3.95"/>
<circle class="k" cx="1870.4" cy="299.9" r="3.95"/><circle class="k" cx="1876.4" cy="319.7" r="3.95"/><circle class="k" cx="1882.3" cy="313.2" r="3.95"/><circle class="k" cx="1888.3" cy="281.6" r="3.95"/><circle class="k" cx="1894.3" cy="275.4" r="3.95"/><circle class="k" cx="1900.3" cy="275" r="3.95"/>
<circle class="k" cx="1906.3" cy="238.4" r="3.95"/><circle class="k" cx="1912.3" cy="330.9" r="3.95"/><circle class="k" cx="1918.2" cy="381.4" r="3.95"/><circle class="k" cx="1924.2" cy="325.2" r="3.95"/><circle class="k" cx="1936.2" cy="311.7" r="3.95"/>
<circle class="n" cx="1421.8" cy="200.3" r="4.95"/><circle class="n" cx="1427.8" cy="244.2" r="4.95"/><circle class="n" cx="1433.8" cy="261.7" r="4.95"/><circle class="n" cx="1439.8" cy="204.8" r="4.95"/><circle class="n" cx="1451.7" cy="240" r="4.95"/><circle class="n" cx="1457.7" cy="145.4" r="4.95"/>
<circle class="n" cx="1463.7" cy="228.7" r="4.95"/><circle class="n" cx="1475.6" cy="175.6" r="4.95"/><circle class="n" cx="1481.6" cy="279.8" r="4.95"/><circle class="n" cx="1487.6" cy="194.6" r="4.95"/><circle class="n" cx="1493.6" cy="249.4" r="4.95"/><circle class="n" cx="1505.5" cy="185.5" r="4.95"/>
<circle class="n" cx="1517.5" cy="249.9" r="4.95"/><circle class="n" cx="1523.5" cy="265.9" r="4.95"/><circle class="n" cx="1529.5" cy="254.7" r="4.95"/><circle class="n" cx="1535.5" cy="253.2" r="4.95"/><circle class="n" cx="1541.4" cy="181.6" r="4.95"/><circle class="n" cx="1547.4" cy="189.8" r="4.95"/>
<circle class="n" cx="1553.4" cy="179.4" r="4.95"/><circle class="n" cx="1559.4" cy="203.3" r="4.95"/><circle class="n" cx="1565.4" cy="248.7" r="4.95"/><circle class="n" cx="1571.3" cy="205.5" r="4.95"/><circle class="n" cx="1583.3" cy="297.3" r="4.95"/><circle class="n" cx="1589.3" cy="147.7" r="4.95"/>
<circle class="n" cx="1595.3" cy="330.1" r="4.95"/><circle class="n" cx="1601.2" cy="181.1" r="4.95"/><circle class="n" cx="1613.2" cy="253.9" r="4.95"/><circle class="n" cx="1619.2" cy="258.4" r="4.95"/><circle class="n" cx="1625.2" cy="268.6" r="4.95"/><circle class="n" cx="1631.1" cy="209.5" r="4.95"/>
<circle class="n" cx="1637.1" cy="196.1" r="4.95"/><circle class="n" cx="1643.1" cy="162.6" r="4.95"/><circle class="n" cx="1649.1" cy="274.8" r="4.95"/><circle class="n" cx="1661.1" cy="230.9" r="4.95"/><circle class="n" cx="1667" cy="278.3" r="4.95"/><circle class="n" cx="1673" cy="227.6" r="4.95"/>
<circle class="n" cx="1679" cy="212.5" r="4.95"/><circle class="n" cx="1685" cy="287.2" r="4.95"/><circle class="n" cx="1696.9" cy="203.7" r="4.95"/><circle class="n" cx="1702.9" cy="172.1" r="4.95"/><circle class="n" cx="1714.9" cy="349.1" r="4.95"/><circle class="n" cx="1720.9" cy="270.7" r="4.95"/>
<circle class="n" cx="1738.8" cy="218.9" r="4.95"/><circle class="n" cx="1744.8" cy="283.1" r="4.95"/><circle class="n" cx="1750.8" cy="219.7" r="4.95"/><circle class="n" cx="1756.7" cy="259.9" r="4.95"/><circle class="n" cx="1762.7" cy="242" r="4.95"/><circle class="n" cx="1780.7" cy="236.9" r="4.95"/>
<circle class="n" cx="1786.7" cy="181.6" r="4.95"/><circle class="n" cx="1798.6" cy="237.9" r="4.95"/><circle class="n" cx="1804.6" cy="263.2" r="4.95"/><circle class="n" cx="1810.6" cy="288.3" r="4.95"/><circle class="n" cx="1816.6" cy="331.2" r="4.95"/><circle class="n" cx="1828.5" cy="248" r="4.95"/>
<circle class="n" cx="1834.5" cy="317.4" r="4.95"/><circle class="n" cx="1840.5" cy="318.2" r="4.95"/><circle class="n" cx="1846.5" cy="210.7" r="4.95"/><circle class="n" cx="1858.4" cy="304.7" r="4.95"/><circle class="n" cx="1864.4" cy="233.9" r="4.95"/><circle class="n" cx="1870.4" cy="234.6" r="4.95"/>
<circle class="n" cx="1876.4" cy="242.2" r="4.95"/><circle class="n" cx="1882.3" cy="280.4" r="4.95"/><circle class="n" cx="1888.3" cy="211.2" r="4.95"/><circle class="n" cx="1894.3" cy="223.1" r="4.95"/><circle class="n" cx="1900.3" cy="305.2" r="4.95"/><circle class="n" cx="1918.2" cy="223.1" r="4.95"/>
<circle class="n" cx="1924.2" cy="252.7" r="4.95"/><circle class="n" cx="1930.2" cy="316.4" r="4.95"/><circle class="n" cx="1936.2" cy="283.8" r="4.95"/><circle class="n" cx="1942.2" cy="279.3" r="4.95"/>
<line class="l lg" x1="1415.8" y1="213.2" x2="1942.5" y2="270.7"/>
<line class="l lk" x1="1415.8" y1="213.5" x2="1942.5" y2="298.8"/>
<line class="l ln" x1="1415.8" y1="213.2" x2="1942.5" y2="271.9"/>
<text class="tt" x="1715.3" y="31.8" text-anchor="middle">LLM</text>
</g>
<g>
<line class="gd" x1="301.1" y1="553.8" x2="301.1" y2="998.4"/>
<line class="gd" x1="480.6" y1="553.8" x2="480.6" y2="998.4"/>
<line class="gd" x1="660.1" y1="553.8" x2="660.1" y2="998.4"/>
<line class="gd" x1="121.5" y1="859.2" x2="719" y2="859.2"/>
<line class="gd" x1="121.5" y1="718.1" x2="719" y2="718.1"/>
<line class="gd" x1="121.5" y1="578.7" x2="719" y2="578.7"/>
<path class="fr" d="M121.5 553.3V998.9M719 553.3V998.9"/>
<line class="fs" x1="120.9" y1="553.8" x2="719.6" y2="553.8"/>
<line class="fr" x1="120.9" y1="998.4" x2="719.6" y2="998.4"/>
<line class="tk" x1="301.1" y1="998.4" x2="301.1" y2="991.9"/>
<line class="tk" x1="301.1" y1="553.8" x2="301.1" y2="560.3"/>
<line class="tk" x1="480.6" y1="998.4" x2="480.6" y2="991.9"/>
<line class="tk" x1="480.6" y1="553.8" x2="480.6" y2="560.3"/>
<line class="tk" x1="660.1" y1="998.4" x2="660.1" y2="991.9"/>
<line class="tk" x1="660.1" y1="553.8" x2="660.1" y2="560.3"/>
<line class="tk" x1="121.5" y1="859.2" x2="128" y2="859.2"/>
<line class="tk" x1="719" y1="859.2" x2="712.5" y2="859.2"/>
<line class="tk" x1="121.5" y1="718.1" x2="128" y2="718.1"/>
<line class="tk" x1="719" y1="718.1" x2="712.5" y2="718.1"/>
<line class="tk" x1="121.5" y1="578.7" x2="128" y2="578.7"/>
<line class="tk" x1="719" y1="578.7" x2="712.5" y2="578.7"/>
<circle class="g" cx="127.1" cy="656.7" r="3.95"/><circle class="g" cx="133.1" cy="693.7" r="3.95"/><circle class="g" cx="139.1" cy="694" r="3.95"/><circle class="g" cx="145.1" cy="820.3" r="3.95"/><circle class="g" cx="151.1" cy="698.2" r="3.95"/><circle class="g" cx="157" cy="731.4" r="3.95"/>
<circle class="g" cx="163" cy="711.9" r="3.95"/><circle class="g" cx="169" cy="706.3" r="3.95"/><circle class="g" cx="175" cy="760.2" r="3.95"/><circle class="g" cx="192.9" cy="750.5" r="3.95"/><circle class="g" cx="198.9" cy="722.4" r="3.95"/><circle class="g" cx="204.9" cy="744.4" r="3.95"/>
<circle class="g" cx="216.8" cy="755.7" r="3.95"/><circle class="g" cx="228.8" cy="750.5" r="3.95"/><circle class="g" cx="234.8" cy="806.1" r="3.95"/><circle class="g" cx="240.8" cy="791.2" r="3.95"/><circle class="g" cx="246.8" cy="757.2" r="3.95"/><circle class="g" cx="258.7" cy="773.9" r="3.95"/>
<circle class="g" cx="264.7" cy="658.9" r="3.95"/><circle class="g" cx="270.7" cy="769.5" r="3.95"/><circle class="g" cx="276.7" cy="706.7" r="3.95"/><circle class="g" cx="282.6" cy="763.5" r="3.95"/><circle class="g" cx="288.6" cy="726.1" r="3.95"/><circle class="g" cx="294.6" cy="689.1" r="3.95"/>
<circle class="g" cx="300.6" cy="803.2" r="3.95"/><circle class="g" cx="306.6" cy="722.4" r="3.95"/><circle class="g" cx="312.5" cy="689.1" r="3.95"/><circle class="g" cx="318.5" cy="715.7" r="3.95"/><circle class="g" cx="324.5" cy="722.8" r="3.95"/><circle class="g" cx="330.5" cy="787.4" r="3.95"/>
<circle class="g" cx="336.5" cy="794.6" r="3.95"/><circle class="g" cx="342.4" cy="795.7" r="3.95"/><circle class="g" cx="354.4" cy="656.7" r="3.95"/><circle class="g" cx="360.4" cy="708.9" r="3.95"/><circle class="g" cx="366.4" cy="741.1" r="3.95"/><circle class="g" cx="372.4" cy="784.4" r="3.95"/>
<circle class="g" cx="378.3" cy="723.9" r="3.95"/><circle class="g" cx="384.3" cy="776.2" r="3.95"/><circle class="g" cx="390.3" cy="707.1" r="3.95"/><circle class="g" cx="396.3" cy="792.7" r="3.95"/><circle class="g" cx="402.3" cy="782" r="3.95"/><circle class="g" cx="408.2" cy="744.8" r="3.95"/>
<circle class="g" cx="420.2" cy="776.2" r="3.95"/><circle class="g" cx="426.2" cy="744.8" r="3.95"/><circle class="g" cx="432.2" cy="799.9" r="3.95"/><circle class="g" cx="444.1" cy="794.1" r="3.95"/><circle class="g" cx="450.1" cy="809.6" r="3.95"/><circle class="g" cx="456.1" cy="761.7" r="3.95"/>
<circle class="g" cx="462.1" cy="733.6" r="3.95"/><circle class="g" cx="480" cy="746" r="3.95"/><circle class="g" cx="492" cy="785.9" r="3.95"/><circle class="g" cx="498" cy="842.7" r="3.95"/><circle class="g" cx="503.9" cy="843.8" r="3.95"/><circle class="g" cx="509.9" cy="795.2" r="3.95"/>
<circle class="g" cx="515.9" cy="770.9" r="3.95"/><circle class="g" cx="521.9" cy="822.9" r="3.95"/><circle class="g" cx="527.9" cy="761.7" r="3.95"/><circle class="g" cx="533.8" cy="748.2" r="3.95"/><circle class="g" cx="539.8" cy="743" r="3.95"/><circle class="g" cx="545.8" cy="730.6" r="3.95"/>
<circle class="g" cx="551.8" cy="768" r="3.95"/><circle class="g" cx="557.8" cy="768.7" r="3.95"/><circle class="g" cx="563.7" cy="822.9" r="3.95"/><circle class="g" cx="569.7" cy="819.6" r="3.95"/><circle class="g" cx="575.7" cy="808.4" r="3.95"/><circle class="g" cx="581.7" cy="840.8" r="3.95"/>
<circle class="g" cx="587.7" cy="780.7" r="3.95"/><circle class="g" cx="593.6" cy="691" r="3.95"/><circle class="g" cx="599.6" cy="700.7" r="3.95"/><circle class="g" cx="605.6" cy="782.1" r="3.95"/><circle class="g" cx="611.6" cy="763.8" r="3.95"/><circle class="g" cx="617.6" cy="723.4" r="3.95"/>
<circle class="g" cx="623.6" cy="833" r="3.95"/><circle class="g" cx="629.5" cy="841.3" r="3.95"/><circle class="g" cx="635.5" cy="821.5" r="3.95"/><circle class="g" cx="641.5" cy="815.1" r="3.95"/><circle class="g" cx="647.5" cy="855.1" r="3.95"/><circle class="g" cx="653.5" cy="854.7" r="3.95"/>
<circle class="k" cx="127.1" cy="712.7" r="3.95"/><circle class="k" cx="139.1" cy="707.1" r="3.95"/><circle class="k" cx="145.1" cy="752.3" r="3.95"/><circle class="k" cx="151.1" cy="731.8" r="3.95"/><circle class="k" cx="157" cy="760.9" r="3.95"/><circle class="k" cx="163" cy="756" r="3.95"/>
<circle class="k" cx="169" cy="649.6" r="3.95"/><circle class="k" cx="175" cy="718.7" r="3.95"/><circle class="k" cx="181" cy="658.9" r="3.95"/><circle class="k" cx="192.9" cy="743.3" r="3.95"/><circle class="k" cx="198.9" cy="711.9" r="3.95"/><circle class="k" cx="204.9" cy="723.9" r="3.95"/>
<circle class="k" cx="210.9" cy="775.1" r="3.95"/><circle class="k" cx="216.8" cy="719.1" r="3.95"/><circle class="k" cx="222.8" cy="691.8" r="3.95"/><circle class="k" cx="228.8" cy="727.6" r="3.95"/><circle class="k" cx="234.8" cy="825.3" r="3.95"/><circle class="k" cx="240.8" cy="773.6" r="3.95"/>
<circle class="k" cx="246.8" cy="677.6" r="3.95"/><circle class="k" cx="252.7" cy="762" r="3.95"/><circle class="k" cx="258.7" cy="752" r="3.95"/><circle class="k" cx="264.7" cy="709.4" r="3.95"/><circle class="k" cx="270.7" cy="750.5" r="3.95"/><circle class="k" cx="276.7" cy="801.4" r="3.95"/>
<circle class="k" cx="282.6" cy="644" r="3.95"/><circle class="k" cx="288.6" cy="763.5" r="3.95"/><circle class="k" cx="294.6" cy="738.8" r="3.95"/><circle class="k" cx="300.6" cy="706.3" r="3.95"/><circle class="k" cx="306.6" cy="774.7" r="3.95"/><circle class="k" cx="312.5" cy="805.1" r="3.95"/>
<circle class="k" cx="318.5" cy="799" r="3.95"/><circle class="k" cx="324.5" cy="735.5" r="3.95"/><circle class="k" cx="330.5" cy="714.9" r="3.95"/><circle class="k" cx="336.5" cy="724.3" r="3.95"/><circle class="k" cx="342.4" cy="781.9" r="3.95"/><circle class="k" cx="348.4" cy="803.5" r="3.95"/>
<circle class="k" cx="354.4" cy="717.2" r="3.95"/><circle class="k" cx="360.4" cy="720.1" r="3.95"/><circle class="k" cx="366.4" cy="803.9" r="3.95"/><circle class="k" cx="372.4" cy="824.5" r="3.95"/><circle class="k" cx="378.3" cy="809.9" r="3.95"/><circle class="k" cx="384.3" cy="791.7" r="3.95"/>
<circle class="k" cx="390.3" cy="739.3" r="3.95"/><circle class="k" cx="396.3" cy="799" r="3.95"/><circle class="k" cx="402.3" cy="790.9" r="3.95"/><circle class="k" cx="408.2" cy="793.8" r="3.95"/><circle class="k" cx="414.2" cy="697.4" r="3.95"/><circle class="k" cx="420.2" cy="781" r="3.95"/>
<circle class="k" cx="426.2" cy="725.1" r="3.95"/><circle class="k" cx="432.2" cy="752.3" r="3.95"/><circle class="k" cx="438.1" cy="744.1" r="3.95"/><circle class="k" cx="450.1" cy="853.2" r="3.95"/><circle class="k" cx="456.1" cy="727.6" r="3.95"/><circle class="k" cx="462.1" cy="729.9" r="3.95"/>
<circle class="k" cx="468" cy="760.5" r="3.95"/><circle class="k" cx="474" cy="723.9" r="3.95"/><circle class="k" cx="480" cy="837.8" r="3.95"/><circle class="k" cx="486" cy="679.5" r="3.95"/><circle class="k" cx="492" cy="850.2" r="3.95"/><circle class="k" cx="498" cy="760.5" r="3.95"/>
<circle class="k" cx="509.9" cy="765.4" r="3.95"/><circle class="k" cx="515.9" cy="802.7" r="3.95"/><circle class="k" cx="527.9" cy="819.6" r="3.95"/><circle class="k" cx="539.8" cy="797.2" r="3.95"/><circle class="k" cx="545.8" cy="817.6" r="3.95"/><circle class="k" cx="551.8" cy="757.9" r="3.95"/>
<circle class="k" cx="557.8" cy="779.9" r="3.95"/><circle class="k" cx="563.7" cy="812.6" r="3.95"/><circle class="k" cx="569.7" cy="764.2" r="3.95"/><circle class="k" cx="575.7" cy="820.3" r="3.95"/><circle class="k" cx="581.7" cy="760.2" r="3.95"/><circle class="k" cx="587.7" cy="812.6" r="3.95"/>
<circle class="k" cx="593.6" cy="831.2" r="3.95"/><circle class="k" cx="599.6" cy="803.9" r="3.95"/><circle class="k" cx="605.6" cy="772.4" r="3.95"/><circle class="k" cx="623.6" cy="850.5" r="3.95"/><circle class="k" cx="629.5" cy="815.4" r="3.95"/><circle class="k" cx="635.5" cy="690.3" r="3.95"/>
<circle class="k" cx="641.5" cy="790.1" r="3.95"/><circle class="k" cx="647.5" cy="831.5" r="3.95"/><circle class="k" cx="653.5" cy="833.3" r="3.95"/>
<circle class="n" cx="127.1" cy="652.2" r="4.95"/><circle class="n" cx="133.1" cy="742.6" r="4.95"/><circle class="n" cx="139.1" cy="757.2" r="4.95"/><circle class="n" cx="145.1" cy="740.8" r="4.95"/><circle class="n" cx="151.1" cy="672" r="4.95"/><circle class="n" cx="157" cy="674.3" r="4.95"/>
<circle class="n" cx="163" cy="666.1" r="4.95"/><circle class="n" cx="169" cy="760.9" r="4.95"/><circle class="n" cx="175" cy="701.9" r="4.95"/><circle class="n" cx="181" cy="699.7" r="4.95"/><circle class="n" cx="186.9" cy="718.7" r="4.95"/><circle class="n" cx="192.9" cy="769.2" r="4.95"/>
<circle class="n" cx="198.9" cy="742.6" r="4.95"/><circle class="n" cx="204.9" cy="787.1" r="4.95"/><circle class="n" cx="210.9" cy="760.9" r="4.95"/><circle class="n" cx="216.8" cy="742.6" r="4.95"/><circle class="n" cx="222.8" cy="720.1" r="4.95"/><circle class="n" cx="228.8" cy="720.1" r="4.95"/>
<circle class="n" cx="234.8" cy="747" r="4.95"/><circle class="n" cx="240.8" cy="830.8" r="4.95"/><circle class="n" cx="252.7" cy="728.8" r="4.95"/><circle class="n" cx="258.7" cy="708.9" r="4.95"/><circle class="n" cx="264.7" cy="774.7" r="4.95"/><circle class="n" cx="270.7" cy="782.6" r="4.95"/>
<circle class="n" cx="276.7" cy="711.6" r="4.95"/><circle class="n" cx="282.6" cy="785.5" r="4.95"/><circle class="n" cx="294.6" cy="794.6" r="4.95"/><circle class="n" cx="300.6" cy="689.8" r="4.95"/><circle class="n" cx="306.6" cy="777.7" r="4.95"/><circle class="n" cx="312.5" cy="728.1" r="4.95"/>
<circle class="n" cx="330.5" cy="772" r="4.95"/><circle class="n" cx="336.5" cy="716.9" r="4.95"/><circle class="n" cx="342.4" cy="738.8" r="4.95"/><circle class="n" cx="348.4" cy="711.6" r="4.95"/><circle class="n" cx="354.4" cy="713.1" r="4.95"/><circle class="n" cx="360.4" cy="726.6" r="4.95"/>
<circle class="n" cx="366.4" cy="750.8" r="4.95"/><circle class="n" cx="372.4" cy="774.7" r="4.95"/><circle class="n" cx="378.3" cy="822.6" r="4.95"/><circle class="n" cx="384.3" cy="796" r="4.95"/><circle class="n" cx="396.3" cy="717.6" r="4.95"/><circle class="n" cx="402.3" cy="739.6" r="4.95"/>
<circle class="n" cx="408.2" cy="740.3" r="4.95"/><circle class="n" cx="414.2" cy="756" r="4.95"/><circle class="n" cx="420.2" cy="747.8" r="4.95"/><circle class="n" cx="426.2" cy="749.3" r="4.95"/><circle class="n" cx="432.2" cy="740.3" r="4.95"/><circle class="n" cx="438.1" cy="789.3" r="4.95"/>
<circle class="n" cx="444.1" cy="777.7" r="4.95"/><circle class="n" cx="456.1" cy="787.4" r="4.95"/><circle class="n" cx="462.1" cy="805.7" r="4.95"/><circle class="n" cx="468" cy="793.4" r="4.95"/><circle class="n" cx="474" cy="757.9" r="4.95"/><circle class="n" cx="480" cy="759" r="4.95"/>
<circle class="n" cx="492" cy="798.2" r="4.95"/><circle class="n" cx="498" cy="861.9" r="4.95"/><circle class="n" cx="503.9" cy="807.3" r="4.95"/><circle class="n" cx="515.9" cy="767.2" r="4.95"/><circle class="n" cx="521.9" cy="745.5" r="4.95"/><circle class="n" cx="533.8" cy="741.8" r="4.95"/>
<circle class="n" cx="545.8" cy="842.7" r="4.95"/><circle class="n" cx="551.8" cy="864.4" r="4.95"/><circle class="n" cx="557.8" cy="756" r="4.95"/><circle class="n" cx="563.7" cy="766.5" r="4.95"/><circle class="n" cx="569.7" cy="777.7" r="4.95"/><circle class="n" cx="575.7" cy="782.1" r="4.95"/>
<circle class="n" cx="581.7" cy="733.1" r="4.95"/><circle class="n" cx="587.7" cy="807.6" r="4.95"/><circle class="n" cx="593.6" cy="781.9" r="4.95"/><circle class="n" cx="599.6" cy="784.4" r="4.95"/><circle class="n" cx="605.6" cy="741.5" r="4.95"/><circle class="n" cx="611.6" cy="807.6" r="4.95"/>
<circle class="n" cx="617.6" cy="813.6" r="4.95"/><circle class="n" cx="623.6" cy="811.4" r="4.95"/><circle class="n" cx="635.5" cy="745.5" r="4.95"/><circle class="n" cx="641.5" cy="847.7" r="4.95"/><circle class="n" cx="647.5" cy="825.6" r="4.95"/>
<line class="l lg" x1="127.1" y1="719" x2="653.8" y2="802.4"/>
<line class="l lk" x1="127.1" y1="719.1" x2="653.8" y2="804.4"/>
<line class="l ln" x1="127.1" y1="719.1" x2="653.8" y2="803.2"/>
<text class="tt" x="425.6" y="537.7" text-anchor="middle">RLM</text>
<text x="116.5" y="873.5" text-anchor="end">80</text>
<text x="116.5" y="732.4" text-anchor="end">100</text>
<text x="116.5" y="593" text-anchor="end">120</text>
<text class="lb" transform="translate(33.5,776.4) rotate(-90)" text-anchor="middle">MDF (% initial MDF)</text>
<text x="125" y="1038.7" text-anchor="middle">0</text>
<text x="317.9" y="1038.7" text-anchor="middle">30</text>
<text x="496" y="1038.7" text-anchor="middle">60</text>
<text x="677.5" y="1038.7" text-anchor="middle">90</text>
<text class="lb" x="423.8" y="1098.3" text-anchor="middle">time (s)</text>
</g>
<g>
<line class="gd" x1="945.3" y1="553.8" x2="945.3" y2="998.4"/>
<line class="gd" x1="1124.9" y1="553.8" x2="1124.9" y2="998.4"/>
<line class="gd" x1="1304.4" y1="553.8" x2="1304.4" y2="998.4"/>
<line class="gd" x1="765.8" y1="859.2" x2="1363.3" y2="859.2"/>
<line class="gd" x1="765.8" y1="718.1" x2="1363.3" y2="718.1"/>
<line class="gd" x1="765.8" y1="578.7" x2="1363.3" y2="578.7"/>
<path class="fr" d="M765.8 553.3V998.9M1363.3 553.3V998.9"/>
<line class="fs" x1="765.2" y1="553.8" x2="1363.9" y2="553.8"/>
<line class="fr" x1="765.2" y1="998.4" x2="1363.9" y2="998.4"/>
<line class="tk" x1="945.3" y1="998.4" x2="945.3" y2="991.9"/>
<line class="tk" x1="945.3" y1="553.8" x2="945.3" y2="560.3"/>
<line class="tk" x1="1124.9" y1="998.4" x2="1124.9" y2="991.9"/>
<line class="tk" x1="1124.9" y1="553.8" x2="1124.9" y2="560.3"/>
<line class="tk" x1="1304.4" y1="998.4" x2="1304.4" y2="991.9"/>
<line class="tk" x1="1304.4" y1="553.8" x2="1304.4" y2="560.3"/>
<line class="tk" x1="765.8" y1="859.2" x2="772.3" y2="859.2"/>
<line class="tk" x1="1363.3" y1="859.2" x2="1356.8" y2="859.2"/>
<line class="tk" x1="765.8" y1="718.1" x2="772.3" y2="718.1"/>
<line class="tk" x1="1363.3" y1="718.1" x2="1356.8" y2="718.1"/>
<line class="tk" x1="765.8" y1="578.7" x2="772.3" y2="578.7"/>
<line class="tk" x1="1363.3" y1="578.7" x2="1356.8" y2="578.7"/>
<circle class="g" cx="771.4" cy="689.1" r="3.95"/><circle class="g" cx="777.4" cy="641.6" r="3.95"/><circle class="g" cx="783.4" cy="702.6" r="3.95"/><circle class="g" cx="795.4" cy="789.4" r="3.95"/><circle class="g" cx="801.3" cy="752.3" r="3.95"/><circle class="g" cx="807.3" cy="712.3" r="3.95"/>
<circle class="g" cx="813.3" cy="702.6" r="3.95"/><circle class="g" cx="825.3" cy="660" r="3.95"/><circle class="g" cx="831.2" cy="716.3" r="3.95"/><circle class="g" cx="837.2" cy="788.6" r="3.95"/><circle class="g" cx="843.2" cy="676.9" r="3.95"/><circle class="g" cx="849.2" cy="796.3" r="3.95"/>
<circle class="g" cx="855.2" cy="793.3" r="3.95"/><circle class="g" cx="861.1" cy="805.2" r="3.95"/><circle class="g" cx="867.1" cy="780.9" r="3.95"/><circle class="g" cx="873.1" cy="711.1" r="3.95"/><circle class="g" cx="879.1" cy="783.1" r="3.95"/><circle class="g" cx="885.1" cy="777.1" r="3.95"/>
<circle class="g" cx="891.1" cy="705.6" r="3.95"/><circle class="g" cx="897" cy="856" r="3.95"/><circle class="g" cx="909" cy="843.2" r="3.95"/><circle class="g" cx="915" cy="859.6" r="3.95"/><circle class="g" cx="921" cy="692.4" r="3.95"/><circle class="g" cx="926.9" cy="709.3" r="3.95"/>
<circle class="g" cx="938.9" cy="675.7" r="3.95"/><circle class="g" cx="950.9" cy="736.9" r="3.95"/><circle class="g" cx="962.8" cy="744" r="3.95"/><circle class="g" cx="968.8" cy="724.7" r="3.95"/><circle class="g" cx="974.8" cy="862.3" r="3.95"/><circle class="g" cx="980.8" cy="824.5" r="3.95"/>
<circle class="g" cx="992.7" cy="816.7" r="3.95"/><circle class="g" cx="998.7" cy="737.2" r="3.95"/><circle class="g" cx="1010.7" cy="777.6" r="3.95"/><circle class="g" cx="1016.7" cy="887.3" r="3.95"/><circle class="g" cx="1022.6" cy="791.3" r="3.95"/><circle class="g" cx="1028.6" cy="890.7" r="3.95"/>
<circle class="g" cx="1034.6" cy="920.6" r="3.95"/><circle class="g" cx="1040.6" cy="837.7" r="3.95"/><circle class="g" cx="1046.6" cy="860.8" r="3.95"/><circle class="g" cx="1052.5" cy="902.4" r="3.95"/><circle class="g" cx="1064.5" cy="758.1" r="3.95"/><circle class="g" cx="1076.5" cy="929.6" r="3.95"/>
<circle class="g" cx="1082.4" cy="800.6" r="3.95"/><circle class="g" cx="1094.4" cy="719.3" r="3.95"/><circle class="g" cx="1100.4" cy="869.8" r="3.95"/><circle class="g" cx="1106.4" cy="915.9" r="3.95"/><circle class="g" cx="1112.3" cy="863.1" r="3.95"/><circle class="g" cx="1118.3" cy="922.1" r="3.95"/>
<circle class="g" cx="1124.3" cy="867.5" r="3.95"/><circle class="g" cx="1130.3" cy="714.5" r="3.95"/><circle class="g" cx="1136.3" cy="891.9" r="3.95"/><circle class="g" cx="1148.2" cy="883.7" r="3.95"/><circle class="g" cx="1160.2" cy="783.1" r="3.95"/><circle class="g" cx="1166.2" cy="797.6" r="3.95"/>
<circle class="g" cx="1172.2" cy="867.5" r="3.95"/><circle class="g" cx="1178.1" cy="843.6" r="3.95"/><circle class="g" cx="1184.1" cy="775.7" r="3.95"/><circle class="g" cx="1190.1" cy="779.8" r="3.95"/><circle class="g" cx="1196.1" cy="879.5" r="3.95"/><circle class="g" cx="1202.1" cy="805.5" r="3.95"/>
<circle class="g" cx="1208" cy="929.1" r="3.95"/><circle class="g" cx="1220" cy="822.4" r="3.95"/><circle class="g" cx="1226" cy="892.2" r="3.95"/><circle class="g" cx="1232" cy="912.3" r="3.95"/><circle class="g" cx="1237.9" cy="862.6" r="3.95"/><circle class="g" cx="1243.9" cy="863.1" r="3.95"/>
<circle class="g" cx="1249.9" cy="923.2" r="3.95"/><circle class="g" cx="1261.9" cy="902.6" r="3.95"/><circle class="g" cx="1267.9" cy="901.9" r="3.95"/><circle class="g" cx="1279.8" cy="937.5" r="3.95"/><circle class="g" cx="1285.8" cy="878.4" r="3.95"/><circle class="g" cx="1297.8" cy="915.6" r="3.95"/>
<circle class="k" cx="771.4" cy="604.7" r="3.95"/><circle class="k" cx="777.4" cy="612.2" r="3.95"/><circle class="k" cx="783.4" cy="773.1" r="3.95"/><circle class="k" cx="789.4" cy="744" r="3.95"/><circle class="k" cx="795.4" cy="660" r="3.95"/><circle class="k" cx="801.3" cy="711.5" r="3.95"/>
<circle class="k" cx="813.3" cy="716.8" r="3.95"/><circle class="k" cx="819.3" cy="781.3" r="3.95"/><circle class="k" cx="825.3" cy="751.9" r="3.95"/><circle class="k" cx="831.2" cy="765.9" r="3.95"/><circle class="k" cx="837.2" cy="773.1" r="3.95"/><circle class="k" cx="849.2" cy="623.4" r="3.95"/>
<circle class="k" cx="855.2" cy="887.7" r="3.95"/><circle class="k" cx="861.1" cy="807.8" r="3.95"/><circle class="k" cx="867.1" cy="938.1" r="3.95"/><circle class="k" cx="873.1" cy="856.3" r="3.95"/><circle class="k" cx="879.1" cy="744.4" r="3.95"/><circle class="k" cx="885.1" cy="655.1" r="3.95"/>
<circle class="k" cx="891.1" cy="784.2" r="3.95"/><circle class="k" cx="897" cy="790.6" r="3.95"/><circle class="k" cx="903" cy="783.4" r="3.95"/><circle class="k" cx="909" cy="754.6" r="3.95"/><circle class="k" cx="915" cy="810.3" r="3.95"/><circle class="k" cx="921" cy="672.2" r="3.95"/>
<circle class="k" cx="926.9" cy="753.4" r="3.95"/><circle class="k" cx="932.9" cy="798.4" r="3.95"/><circle class="k" cx="938.9" cy="612.2" r="3.95"/><circle class="k" cx="944.9" cy="878.7" r="3.95"/><circle class="k" cx="968.8" cy="762.2" r="3.95"/><circle class="k" cx="980.8" cy="841.4" r="3.95"/>
<circle class="k" cx="986.7" cy="765.9" r="3.95"/><circle class="k" cx="992.7" cy="769.2" r="3.95"/><circle class="k" cx="998.7" cy="841.4" r="3.95"/><circle class="k" cx="1004.7" cy="906.4" r="3.95"/><circle class="k" cx="1010.7" cy="966.6" r="3.95"/><circle class="k" cx="1016.7" cy="913.1" r="3.95"/>
<circle class="k" cx="1022.6" cy="827.2" r="3.95"/><circle class="k" cx="1028.6" cy="721.7" r="3.95"/><circle class="k" cx="1034.6" cy="861.6" r="3.95"/><circle class="k" cx="1040.6" cy="857.5" r="3.95"/><circle class="k" cx="1046.6" cy="793.1" r="3.95"/><circle class="k" cx="1052.5" cy="836.9" r="3.95"/>
<circle class="k" cx="1058.5" cy="848.1" r="3.95"/><circle class="k" cx="1064.5" cy="890.7" r="3.95"/><circle class="k" cx="1070.5" cy="765.2" r="3.95"/><circle class="k" cx="1076.5" cy="871.3" r="3.95"/><circle class="k" cx="1082.4" cy="867.5" r="3.95"/><circle class="k" cx="1088.4" cy="879" r="3.95"/>
<circle class="k" cx="1100.4" cy="914.9" r="3.95"/><circle class="k" cx="1106.4" cy="869" r="3.95"/><circle class="k" cx="1118.3" cy="794" r="3.95"/><circle class="k" cx="1124.3" cy="901.6" r="3.95"/><circle class="k" cx="1130.3" cy="897.4" r="3.95"/><circle class="k" cx="1136.3" cy="792.8" r="3.95"/>
<circle class="k" cx="1142.3" cy="748.9" r="3.95"/><circle class="k" cx="1148.2" cy="833.5" r="3.95"/><circle class="k" cx="1154.2" cy="935.6" r="3.95"/><circle class="k" cx="1166.2" cy="921.8" r="3.95"/><circle class="k" cx="1172.2" cy="849.2" r="3.95"/><circle class="k" cx="1178.1" cy="890.7" r="3.95"/>
<circle class="k" cx="1190.1" cy="849.9" r="3.95"/><circle class="k" cx="1202.1" cy="878.7" r="3.95"/><circle class="k" cx="1208" cy="904.3" r="3.95"/><circle class="k" cx="1214" cy="959" r="3.95"/><circle class="k" cx="1226" cy="947.5" r="3.95"/><circle class="k" cx="1232" cy="908.7" r="3.95"/>
<circle class="k" cx="1237.9" cy="936.6" r="3.95"/><circle class="k" cx="1243.9" cy="895.9" r="3.95"/><circle class="k" cx="1249.9" cy="867.2" r="3.95"/><circle class="k" cx="1255.9" cy="866.5" r="3.95"/><circle class="k" cx="1261.9" cy="820.5" r="3.95"/><circle class="k" cx="1279.8" cy="801.3" r="3.95"/>
<circle class="k" cx="1285.8" cy="966.5" r="3.95"/><circle class="k" cx="1291.8" cy="946.5" r="3.95"/><circle class="k" cx="1297.8" cy="989.1" r="3.95"/>
<circle class="n" cx="771.4" cy="706.8" r="4.95"/><circle class="n" cx="777.4" cy="728.4" r="4.95"/><circle class="n" cx="783.4" cy="733.9" r="4.95"/><circle class="n" cx="789.4" cy="700" r="4.95"/><circle class="n" cx="801.3" cy="803.3" r="4.95"/><circle class="n" cx="807.3" cy="803.3" r="4.95"/>
<circle class="n" cx="819.3" cy="683.9" r="4.95"/><circle class="n" cx="825.3" cy="761.8" r="4.95"/><circle class="n" cx="837.2" cy="692.1" r="4.95"/><circle class="n" cx="843.2" cy="764.4" r="4.95"/><circle class="n" cx="849.2" cy="653.3" r="4.95"/><circle class="n" cx="855.2" cy="712.6" r="4.95"/>
<circle class="n" cx="861.1" cy="657.7" r="4.95"/><circle class="n" cx="867.1" cy="728" r="4.95"/><circle class="n" cx="879.1" cy="822.4" r="4.95"/><circle class="n" cx="885.1" cy="717.1" r="4.95"/><circle class="n" cx="891.1" cy="711.5" r="4.95"/><circle class="n" cx="897" cy="671.2" r="4.95"/>
<circle class="n" cx="903" cy="755.6" r="4.95"/><circle class="n" cx="909" cy="658" r="4.95"/><circle class="n" cx="915" cy="733.6" r="4.95"/><circle class="n" cx="921" cy="740.7" r="4.95"/><circle class="n" cx="932.9" cy="735" r="4.95"/><circle class="n" cx="938.9" cy="826.1" r="4.95"/>
<circle class="n" cx="944.9" cy="837.4" r="4.95"/><circle class="n" cx="950.9" cy="833.2" r="4.95"/><circle class="n" cx="956.8" cy="823.8" r="4.95"/><circle class="n" cx="962.8" cy="802.1" r="4.95"/><circle class="n" cx="968.8" cy="833.2" r="4.95"/><circle class="n" cx="974.8" cy="739.5" r="4.95"/>
<circle class="n" cx="986.7" cy="735.9" r="4.95"/><circle class="n" cx="992.7" cy="645" r="4.95"/><circle class="n" cx="998.7" cy="821.2" r="4.95"/><circle class="n" cx="1010.7" cy="786.6" r="4.95"/><circle class="n" cx="1016.7" cy="741.1" r="4.95"/><circle class="n" cx="1022.6" cy="741.7" r="4.95"/>
<circle class="n" cx="1028.6" cy="716.8" r="4.95"/><circle class="n" cx="1034.6" cy="726.5" r="4.95"/><circle class="n" cx="1040.6" cy="672.2" r="4.95"/><circle class="n" cx="1052.5" cy="765" r="4.95"/><circle class="n" cx="1058.5" cy="706.8" r="4.95"/><circle class="n" cx="1070.5" cy="735.7" r="4.95"/>
<circle class="n" cx="1076.5" cy="803.7" r="4.95"/><circle class="n" cx="1082.4" cy="717.1" r="4.95"/><circle class="n" cx="1088.4" cy="887" r="4.95"/><circle class="n" cx="1094.4" cy="766.7" r="4.95"/><circle class="n" cx="1100.4" cy="764.1" r="4.95"/><circle class="n" cx="1106.4" cy="738" r="4.95"/>
<circle class="n" cx="1112.3" cy="800.3" r="4.95"/><circle class="n" cx="1118.3" cy="749.3" r="4.95"/><circle class="n" cx="1124.3" cy="803.6" r="4.95"/><circle class="n" cx="1130.3" cy="713.5" r="4.95"/><circle class="n" cx="1136.3" cy="811.5" r="4.95"/><circle class="n" cx="1142.3" cy="795.1" r="4.95"/>
<circle class="n" cx="1148.2" cy="723.2" r="4.95"/><circle class="n" cx="1154.2" cy="807.8" r="4.95"/><circle class="n" cx="1172.2" cy="806.6" r="4.95"/><circle class="n" cx="1178.1" cy="777.9" r="4.95"/><circle class="n" cx="1184.1" cy="734.7" r="4.95"/><circle class="n" cx="1190.1" cy="765.9" r="4.95"/>
<circle class="n" cx="1196.1" cy="812.3" r="4.95"/><circle class="n" cx="1202.1" cy="832.7" r="4.95"/><circle class="n" cx="1208" cy="837.2" r="4.95"/><circle class="n" cx="1214" cy="887" r="4.95"/><circle class="n" cx="1220" cy="769.7" r="4.95"/><circle class="n" cx="1226" cy="789.1" r="4.95"/>
<circle class="n" cx="1232" cy="813.7" r="4.95"/><circle class="n" cx="1237.9" cy="792.8" r="4.95"/><circle class="n" cx="1243.9" cy="836.6" r="4.95"/><circle class="n" cx="1249.9" cy="762.5" r="4.95"/><circle class="n" cx="1255.9" cy="793.9" r="4.95"/><circle class="n" cx="1261.9" cy="896.7" r="4.95"/>
<circle class="n" cx="1267.9" cy="871" r="4.95"/><circle class="n" cx="1273.8" cy="898.9" r="4.95"/><circle class="n" cx="1279.8" cy="854.1" r="4.95"/><circle class="n" cx="1285.8" cy="712" r="4.95"/><circle class="n" cx="1291.8" cy="885.9" r="4.95"/><circle class="n" cx="1297.8" cy="706" r="4.95"/>
<line class="l lg" x1="771.4" y1="720.2" x2="1298.1" y2="901.6"/>
<line class="l lk" x1="771.4" y1="720.5" x2="1298.1" y2="928.1"/>
<line class="l ln" x1="771.4" y1="719.2" x2="1298.1" y2="816.3"/>
<text class="tt" x="1068.1" y="537.7" text-anchor="middle">RLT</text>
<text x="772.3" y="1038.7" text-anchor="middle">0</text>
<text x="965.5" y="1038.7" text-anchor="middle">30</text>
<text x="1144.3" y="1038.7" text-anchor="middle">60</text>
<text x="1326.2" y="1038.7" text-anchor="middle">90</text>
<text class="lb" x="1068" y="1098.3" text-anchor="middle">time (s)</text>
</g>
<g>
<line class="gd" x1="1589.5" y1="553.8" x2="1589.5" y2="998.4"/>
<line class="gd" x1="1769.1" y1="553.8" x2="1769.1" y2="998.4"/>
<line class="gd" x1="1948.7" y1="553.8" x2="1948.7" y2="998.4"/>
<line class="gd" x1="1410" y1="859.2" x2="2007.5" y2="859.2"/>
<line class="gd" x1="1410" y1="718.1" x2="2007.5" y2="718.1"/>
<line class="gd" x1="1410" y1="578.7" x2="2007.5" y2="578.7"/>
<path class="fr" d="M1410 553.3V998.9M2007.5 553.3V998.9"/>
<line class="fs" x1="1409.4" y1="553.8" x2="2008.1" y2="553.8"/>
<line class="fr" x1="1409.4" y1="998.4" x2="2008.1" y2="998.4"/>
<line class="tk" x1="1589.5" y1="998.4" x2="1589.5" y2="991.9"/>
<line class="tk" x1="1589.5" y1="553.8" x2="1589.5" y2="560.3"/>
<line class="tk" x1="1769.1" y1="998.4" x2="1769.1" y2="991.9"/>
<line class="tk" x1="1769.1" y1="553.8" x2="1769.1" y2="560.3"/>
<line class="tk" x1="1948.7" y1="998.4" x2="1948.7" y2="991.9"/>
<line class="tk" x1="1948.7" y1="553.8" x2="1948.7" y2="560.3"/>
<line class="tk" x1="1410" y1="859.2" x2="1416.5" y2="859.2"/>
<line class="tk" x1="2007.5" y1="859.2" x2="2001" y2="859.2"/>
<line class="tk" x1="1410" y1="718.1" x2="1416.5" y2="718.1"/>
<line class="tk" x1="2007.5" y1="718.1" x2="2001" y2="718.1"/>
<line class="tk" x1="1410" y1="578.7" x2="1416.5" y2="578.7"/>
<line class="tk" x1="2007.5" y1="578.7" x2="2001" y2="578.7"/>
<circle class="g" cx="1415.8" cy="739.1" r="3.95"/><circle class="g" cx="1421.8" cy="627.4" r="3.95"/><circle class="g" cx="1427.8" cy="782.8" r="3.95"/><circle class="g" cx="1433.8" cy="610.3" r="3.95"/><circle class="g" cx="1439.8" cy="710.7" r="3.95"/><circle class="g" cx="1445.7" cy="688.6" r="3.95"/>
<circle class="g" cx="1451.7" cy="619.6" r="3.95"/><circle class="g" cx="1457.7" cy="839.4" r="3.95"/><circle class="g" cx="1463.7" cy="747.5" r="3.95"/><circle class="g" cx="1469.7" cy="707.7" r="3.95"/><circle class="g" cx="1475.6" cy="711.5" r="3.95"/><circle class="g" cx="1481.6" cy="798.7" r="3.95"/>
<circle class="g" cx="1487.6" cy="670.4" r="3.95"/><circle class="g" cx="1493.6" cy="768.1" r="3.95"/><circle class="g" cx="1499.6" cy="861.9" r="3.95"/><circle class="g" cx="1505.5" cy="663.2" r="3.95"/><circle class="g" cx="1511.5" cy="755.7" r="3.95"/><circle class="g" cx="1517.5" cy="839.1" r="3.95"/>
<circle class="g" cx="1523.5" cy="850.7" r="3.95"/><circle class="g" cx="1529.5" cy="799.8" r="3.95"/><circle class="g" cx="1541.4" cy="827.9" r="3.95"/><circle class="g" cx="1547.4" cy="759.2" r="3.95"/><circle class="g" cx="1553.4" cy="766.2" r="3.95"/><circle class="g" cx="1559.4" cy="784.6" r="3.95"/>
<circle class="g" cx="1565.4" cy="709.2" r="3.95"/><circle class="g" cx="1571.3" cy="664.4" r="3.95"/><circle class="g" cx="1577.3" cy="641.7" r="3.95"/><circle class="g" cx="1583.3" cy="755.4" r="3.95"/><circle class="g" cx="1595.3" cy="718.5" r="3.95"/><circle class="g" cx="1601.2" cy="774.8" r="3.95"/>
<circle class="g" cx="1607.2" cy="715.2" r="3.95"/><circle class="g" cx="1613.2" cy="766.6" r="3.95"/><circle class="g" cx="1619.2" cy="772.3" r="3.95"/><circle class="g" cx="1625.2" cy="713.4" r="3.95"/><circle class="g" cx="1631.1" cy="781.1" r="3.95"/><circle class="g" cx="1637.1" cy="740.6" r="3.95"/>
<circle class="g" cx="1643.1" cy="665.2" r="3.95"/><circle class="g" cx="1649.1" cy="688.8" r="3.95"/><circle class="g" cx="1655.1" cy="724.2" r="3.95"/><circle class="g" cx="1661.1" cy="723" r="3.95"/><circle class="g" cx="1667" cy="783.4" r="3.95"/><circle class="g" cx="1673" cy="880.2" r="3.95"/>
<circle class="g" cx="1679" cy="845" r="3.95"/><circle class="g" cx="1685" cy="793.5" r="3.95"/><circle class="g" cx="1691" cy="686.8" r="3.95"/><circle class="g" cx="1696.9" cy="804.4" r="3.95"/><circle class="g" cx="1702.9" cy="678.3" r="3.95"/><circle class="g" cx="1708.9" cy="728.2" r="3.95"/>
<circle class="g" cx="1714.9" cy="661" r="3.95"/><circle class="g" cx="1726.8" cy="790.1" r="3.95"/><circle class="g" cx="1732.8" cy="839.8" r="3.95"/><circle class="g" cx="1738.8" cy="683.5" r="3.95"/><circle class="g" cx="1744.8" cy="798" r="3.95"/><circle class="g" cx="1756.7" cy="716.4" r="3.95"/>
<circle class="g" cx="1768.7" cy="844.3" r="3.95"/><circle class="g" cx="1774.7" cy="829.7" r="3.95"/><circle class="g" cx="1786.7" cy="695" r="3.95"/><circle class="g" cx="1792.6" cy="905.7" r="3.95"/><circle class="g" cx="1798.6" cy="752.7" r="3.95"/><circle class="g" cx="1804.6" cy="825.6" r="3.95"/>
<circle class="g" cx="1810.6" cy="814.4" r="3.95"/><circle class="g" cx="1816.6" cy="846.1" r="3.95"/><circle class="g" cx="1822.5" cy="758.4" r="3.95"/><circle class="g" cx="1834.5" cy="750.5" r="3.95"/><circle class="g" cx="1840.5" cy="849.5" r="3.95"/><circle class="g" cx="1858.4" cy="763.3" r="3.95"/>
<circle class="g" cx="1864.4" cy="820.4" r="3.95"/><circle class="g" cx="1870.4" cy="943.5" r="3.95"/><circle class="g" cx="1876.4" cy="819.2" r="3.95"/><circle class="g" cx="1882.3" cy="871.2" r="3.95"/><circle class="g" cx="1888.3" cy="865.5" r="3.95"/><circle class="g" cx="1894.3" cy="818.2" r="3.95"/>
<circle class="g" cx="1900.3" cy="751.4" r="3.95"/><circle class="g" cx="1906.3" cy="840.1" r="3.95"/><circle class="g" cx="1918.2" cy="774.1" r="3.95"/><circle class="g" cx="1924.2" cy="774.1" r="3.95"/><circle class="g" cx="1930.2" cy="831.2" r="3.95"/><circle class="g" cx="1936.2" cy="719.7" r="3.95"/>
<circle class="g" cx="1942.2" cy="763.3" r="3.95"/>
<circle class="k" cx="1415.8" cy="686.1" r="3.95"/><circle class="k" cx="1421.8" cy="705.2" r="3.95"/><circle class="k" cx="1427.8" cy="766.6" r="3.95"/><circle class="k" cx="1433.8" cy="706.7" r="3.95"/><circle class="k" cx="1439.8" cy="645.7" r="3.95"/><circle class="k" cx="1445.7" cy="810.4" r="3.95"/>
<circle class="k" cx="1451.7" cy="673.7" r="3.95"/><circle class="k" cx="1457.7" cy="650.5" r="3.95"/><circle class="k" cx="1463.7" cy="703" r="3.95"/><circle class="k" cx="1469.7" cy="716.7" r="3.95"/><circle class="k" cx="1475.6" cy="735.4" r="3.95"/><circle class="k" cx="1481.6" cy="702.5" r="3.95"/>
<circle class="k" cx="1487.6" cy="743.4" r="3.95"/><circle class="k" cx="1493.6" cy="611.1" r="3.95"/><circle class="k" cx="1499.6" cy="745.7" r="3.95"/><circle class="k" cx="1505.5" cy="754.2" r="3.95"/><circle class="k" cx="1511.5" cy="787.2" r="3.95"/><circle class="k" cx="1517.5" cy="827.1" r="3.95"/>
<circle class="k" cx="1523.5" cy="666.7" r="3.95"/><circle class="k" cx="1535.5" cy="789.3" r="3.95"/><circle class="k" cx="1541.4" cy="754.7" r="3.95"/><circle class="k" cx="1547.4" cy="697.3" r="3.95"/><circle class="k" cx="1553.4" cy="749.7" r="3.95"/><circle class="k" cx="1559.4" cy="791.3" r="3.95"/>
<circle class="k" cx="1565.4" cy="795.8" r="3.95"/><circle class="k" cx="1571.3" cy="714" r="3.95"/><circle class="k" cx="1577.3" cy="592.4" r="3.95"/><circle class="k" cx="1583.3" cy="671.6" r="3.95"/><circle class="k" cx="1589.3" cy="840.1" r="3.95"/><circle class="k" cx="1601.2" cy="736.1" r="3.95"/>
<circle class="k" cx="1607.2" cy="771.1" r="3.95"/><circle class="k" cx="1613.2" cy="761.4" r="3.95"/><circle class="k" cx="1619.2" cy="891.9" r="3.95"/><circle class="k" cx="1625.2" cy="695.5" r="3.95"/><circle class="k" cx="1631.1" cy="785.3" r="3.95"/><circle class="k" cx="1637.1" cy="810" r="3.95"/>
<circle class="k" cx="1643.1" cy="872.4" r="3.95"/><circle class="k" cx="1649.1" cy="822.4" r="3.95"/><circle class="k" cx="1655.1" cy="788.7" r="3.95"/><circle class="k" cx="1661.1" cy="599" r="3.95"/><circle class="k" cx="1673" cy="742.1" r="3.95"/><circle class="k" cx="1679" cy="732.4" r="3.95"/>
<circle class="k" cx="1685" cy="739.1" r="3.95"/><circle class="k" cx="1691" cy="773.9" r="3.95"/><circle class="k" cx="1696.9" cy="811.7" r="3.95"/><circle class="k" cx="1702.9" cy="793.2" r="3.95"/><circle class="k" cx="1708.9" cy="750.9" r="3.95"/><circle class="k" cx="1714.9" cy="707" r="3.95"/>
<circle class="k" cx="1720.9" cy="717.2" r="3.95"/><circle class="k" cx="1726.8" cy="779.3" r="3.95"/><circle class="k" cx="1732.8" cy="687.9" r="3.95"/><circle class="k" cx="1738.8" cy="781.6" r="3.95"/><circle class="k" cx="1744.8" cy="896.8" r="3.95"/><circle class="k" cx="1750.8" cy="793.5" r="3.95"/>
<circle class="k" cx="1756.7" cy="801" r="3.95"/><circle class="k" cx="1762.7" cy="809.2" r="3.95"/><circle class="k" cx="1768.7" cy="839.8" r="3.95"/><circle class="k" cx="1780.7" cy="719.2" r="3.95"/><circle class="k" cx="1786.7" cy="662.2" r="3.95"/><circle class="k" cx="1798.6" cy="851.5" r="3.95"/>
<circle class="k" cx="1804.6" cy="762.9" r="3.95"/><circle class="k" cx="1810.6" cy="834.2" r="3.95"/><circle class="k" cx="1816.6" cy="824.9" r="3.95"/><circle class="k" cx="1822.5" cy="824.1" r="3.95"/><circle class="k" cx="1828.5" cy="736.1" r="3.95"/><circle class="k" cx="1834.5" cy="669.6" r="3.95"/>
<circle class="k" cx="1840.5" cy="898.8" r="3.95"/><circle class="k" cx="1846.5" cy="692.1" r="3.95"/><circle class="k" cx="1858.4" cy="845.8" r="3.95"/><circle class="k" cx="1864.4" cy="830.1" r="3.95"/><circle class="k" cx="1870.4" cy="871.2" r="3.95"/><circle class="k" cx="1876.4" cy="867" r="3.95"/>
<circle class="k" cx="1888.3" cy="775.6" r="3.95"/><circle class="k" cx="1900.3" cy="762.9" r="3.95"/><circle class="k" cx="1906.3" cy="741.5" r="3.95"/><circle class="k" cx="1912.3" cy="857" r="3.95"/><circle class="k" cx="1918.2" cy="620.3" r="3.95"/><circle class="k" cx="1924.2" cy="745.4" r="3.95"/>
<circle class="k" cx="1936.2" cy="685.3" r="3.95"/><circle class="k" cx="1942.2" cy="847.3" r="3.95"/>
<circle class="n" cx="1415.8" cy="693.8" r="4.95"/><circle class="n" cx="1421.8" cy="748" r="4.95"/><circle class="n" cx="1427.8" cy="694" r="4.95"/><circle class="n" cx="1433.8" cy="809.2" r="4.95"/><circle class="n" cx="1445.7" cy="965.2" r="4.95"/><circle class="n" cx="1451.7" cy="756.9" r="4.95"/>
<circle class="n" cx="1457.7" cy="753.6" r="4.95"/><circle class="n" cx="1463.7" cy="666.4" r="4.95"/><circle class="n" cx="1469.7" cy="649.9" r="4.95"/><circle class="n" cx="1475.6" cy="701.5" r="4.95"/><circle class="n" cx="1481.6" cy="672.2" r="4.95"/><circle class="n" cx="1487.6" cy="619.3" r="4.95"/>
<circle class="n" cx="1493.6" cy="716.3" r="4.95"/><circle class="n" cx="1499.6" cy="702.5" r="4.95"/><circle class="n" cx="1505.5" cy="743" r="4.95"/><circle class="n" cx="1511.5" cy="721.2" r="4.95"/><circle class="n" cx="1517.5" cy="681.6" r="4.95"/><circle class="n" cx="1523.5" cy="838" r="4.95"/>
<circle class="n" cx="1529.5" cy="652.9" r="4.95"/><circle class="n" cx="1535.5" cy="653.2" r="4.95"/><circle class="n" cx="1541.4" cy="652.9" r="4.95"/><circle class="n" cx="1547.4" cy="819.7" r="4.95"/><circle class="n" cx="1553.4" cy="634.8" r="4.95"/><circle class="n" cx="1559.4" cy="709.2" r="4.95"/>
<circle class="n" cx="1565.4" cy="783.1" r="4.95"/><circle class="n" cx="1571.3" cy="754.7" r="4.95"/><circle class="n" cx="1577.3" cy="670.4" r="4.95"/><circle class="n" cx="1583.3" cy="792.3" r="4.95"/><circle class="n" cx="1589.3" cy="876.1" r="4.95"/><circle class="n" cx="1595.3" cy="822.2" r="4.95"/>
<circle class="n" cx="1601.2" cy="830.4" r="4.95"/><circle class="n" cx="1607.2" cy="720" r="4.95"/><circle class="n" cx="1613.2" cy="796.2" r="4.95"/><circle class="n" cx="1631.1" cy="672.9" r="4.95"/><circle class="n" cx="1637.1" cy="623.3" r="4.95"/><circle class="n" cx="1643.1" cy="739.9" r="4.95"/>
<circle class="n" cx="1649.1" cy="646" r="4.95"/><circle class="n" cx="1655.1" cy="766.3" r="4.95"/><circle class="n" cx="1661.1" cy="737.6" r="4.95"/><circle class="n" cx="1673" cy="704.5" r="4.95"/><circle class="n" cx="1679" cy="812.5" r="4.95"/><circle class="n" cx="1685" cy="773" r="4.95"/>
<circle class="n" cx="1702.9" cy="741.1" r="4.95"/><circle class="n" cx="1714.9" cy="724.9" r="4.95"/><circle class="n" cx="1720.9" cy="670.8" r="4.95"/><circle class="n" cx="1726.8" cy="801.7" r="4.95"/><circle class="n" cx="1732.8" cy="790.1" r="4.95"/><circle class="n" cx="1738.8" cy="733.9" r="4.95"/>
<circle class="n" cx="1744.8" cy="828.6" r="4.95"/><circle class="n" cx="1756.7" cy="806.2" r="4.95"/><circle class="n" cx="1762.7" cy="791.3" r="4.95"/><circle class="n" cx="1768.7" cy="751.7" r="4.95"/><circle class="n" cx="1786.7" cy="854.5" r="4.95"/><circle class="n" cx="1792.6" cy="809.2" r="4.95"/>
<circle class="n" cx="1798.6" cy="805.5" r="4.95"/><circle class="n" cx="1804.6" cy="828.9" r="4.95"/><circle class="n" cx="1810.6" cy="794.3" r="4.95"/><circle class="n" cx="1816.6" cy="766.6" r="4.95"/><circle class="n" cx="1822.5" cy="740.5" r="4.95"/><circle class="n" cx="1828.5" cy="743.5" r="4.95"/>
<circle class="n" cx="1852.4" cy="804" r="4.95"/><circle class="n" cx="1864.4" cy="706.2" r="4.95"/><circle class="n" cx="1870.4" cy="734.6" r="4.95"/><circle class="n" cx="1876.4" cy="689.5" r="4.95"/><circle class="n" cx="1888.3" cy="765.9" r="4.95"/><circle class="n" cx="1894.3" cy="810.7" r="4.95"/>
<circle class="n" cx="1906.3" cy="905.1" r="4.95"/><circle class="n" cx="1912.3" cy="771.9" r="4.95"/><circle class="n" cx="1918.2" cy="864.5" r="4.95"/><circle class="n" cx="1924.2" cy="739.6" r="4.95"/><circle class="n" cx="1930.2" cy="686.5" r="4.95"/><circle class="n" cx="1936.2" cy="864.8" r="4.95"/>
<circle class="n" cx="1942.2" cy="687.6" r="4.95"/>
<line class="l lg" x1="1415.8" y1="719.1" x2="1942.5" y2="811"/>
<line class="l lk" x1="1415.8" y1="719" x2="1942.5" y2="801"/>
<line class="l ln" x1="1415.8" y1="718.9" x2="1942.5" y2="788.3"/>
<text class="tt" x="1715.3" y="537.7" text-anchor="middle">RIL</text>
<text x="1417.4" y="1038.7" text-anchor="middle">0</text>
<text x="1610.6" y="1038.7" text-anchor="middle">30</text>
<text x="1790.3" y="1038.7" text-anchor="middle">60</text>
<text x="1971.5" y="1038.7" text-anchor="middle">90</text>
<text class="lb" x="1712.2" y="1098.3" text-anchor="middle">time (s)</text>
</g>
</svg>
</body>
</html>
